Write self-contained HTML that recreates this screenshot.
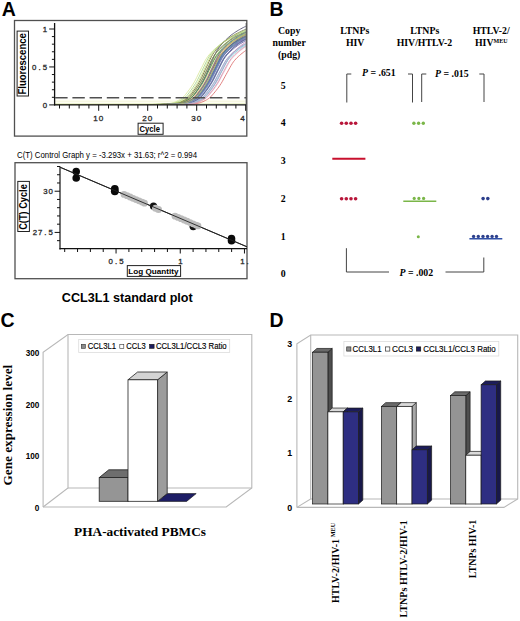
<!DOCTYPE html>
<html><head><meta charset="utf-8"><title>Figure</title>
<style>
html,body{margin:0;padding:0;background:#fff;}
body{width:520px;height:621px;overflow:hidden;}
svg{display:block;}
</style></head>
<body>
<svg width="520" height="621" viewBox="0 0 520 621">
<rect width="520" height="621" fill="#fff"/>
<text x="1.7" y="15.8" font-family='"Liberation Sans", sans-serif' font-weight="bold" font-size="19.5">A</text>
<text x="269.4" y="15.9" font-family='"Liberation Sans", sans-serif' font-weight="bold" font-size="19.5">B</text>
<text x="0.6" y="326.6" font-family='"Liberation Sans", sans-serif' font-weight="bold" font-size="19.5">C</text>
<text x="269.6" y="326.9" font-family='"Liberation Sans", sans-serif' font-weight="bold" font-size="19.5">D</text>
<rect x="14.5" y="20.5" width="232.3" height="115.6" fill="none" stroke="#505050" stroke-width="1.3"/>
<rect x="17.1" y="31.1" width="11.4" height="64.9" fill="#fff" stroke="#222" stroke-width="1"/>
<text transform="translate(26.2,94.5) rotate(-90)" textLength="61.3" lengthAdjust="spacingAndGlyphs" font-family='"Liberation Sans", sans-serif' font-weight="bold" font-size="10.4">Fluorescence</text>
<rect x="138.1" y="123.2" width="25" height="11.1" fill="#fff" stroke="#222" stroke-width="1"/>
<text x="139.5" y="131.7" textLength="20.4" lengthAdjust="spacingAndGlyphs" font-family='"Liberation Sans", sans-serif' font-weight="bold" font-size="8.3">Cycle</text>
<rect x="55" y="99.5" width="190.5" height="5" fill="#fdfdf2"/>
<line x1="55" y1="101.3" x2="245.5" y2="101.3" stroke="#f4f6d8" stroke-width="0.8"/>
<line x1="55" y1="103.6" x2="245.5" y2="103.6" stroke="#e4eec0" stroke-width="0.8"/>
<polyline points="54.60,104.50 59.50,104.50 64.40,104.50 69.30,104.50 74.20,104.50 79.10,104.50 84.00,104.50 88.90,104.50 93.80,104.50 98.70,104.50 103.60,104.50 108.50,104.50 113.40,104.50 118.30,104.50 123.20,104.50 128.10,104.50 133.00,104.50 137.90,104.50 142.80,104.50 147.70,104.49 152.60,104.46 153.83,104.45 155.05,104.43 156.28,104.41 157.50,104.40 158.73,104.38 159.95,104.35 161.18,104.33 162.40,104.31 163.62,104.28 164.85,104.21 166.08,104.09 167.30,103.93 168.53,103.72 169.75,103.49 170.98,103.22 172.20,102.94 173.43,102.63 174.65,102.21 175.88,101.67 177.10,101.05 178.33,100.40 179.55,99.71 180.78,98.95 182.00,98.08 183.22,97.08 184.45,95.83 185.68,94.38 186.90,92.80 188.12,91.20 189.35,89.56 190.58,87.85 191.80,86.05 193.03,84.15 194.25,82.15 195.47,79.95 196.70,77.54 197.93,75.04 199.15,72.54 200.38,70.14 201.60,67.71 202.83,65.22 204.05,62.78 205.28,60.46 206.50,58.37 207.72,56.58 208.95,55.01 210.18,53.58 211.40,52.27 212.62,51.04 213.85,49.88 215.08,48.76 216.30,47.68 217.53,46.65 218.75,45.67 219.97,44.74 221.20,43.87 222.43,43.05 223.65,42.28 224.88,41.53 226.10,40.82 227.33,40.14 228.55,39.49 229.78,38.86 231.00,38.27 232.22,37.69 233.45,37.13 234.68,36.58 235.90,36.05 237.12,35.53 238.35,35.03 239.58,34.54 240.80,34.07 242.03,33.62 243.25,33.19 244.47,32.78 245.70,32.40" fill="none" stroke="#d8e698" stroke-width="0.85"/>
<polyline points="54.60,104.50 59.50,104.50 64.40,104.50 69.30,104.50 74.20,104.50 79.10,104.50 84.00,104.50 88.90,104.50 93.80,104.50 98.70,104.50 103.60,104.50 108.50,104.50 113.40,104.50 118.30,104.50 123.20,104.50 128.10,104.50 133.00,104.50 137.90,104.50 142.80,104.50 147.70,104.50 152.60,104.48 153.83,104.47 155.05,104.46 156.28,104.44 157.50,104.43 158.73,104.41 159.95,104.39 161.18,104.37 162.40,104.35 163.62,104.33 164.85,104.30 166.08,104.27 167.30,104.20 168.53,104.08 169.75,103.91 170.98,103.70 172.20,103.46 173.43,103.18 174.65,102.89 175.88,102.57 177.10,102.14 178.33,101.58 179.55,100.94 180.78,100.27 182.00,99.56 183.22,98.77 184.45,97.87 185.68,96.83 186.90,95.55 188.12,94.05 189.35,92.42 190.58,90.77 191.80,89.08 193.03,87.31 194.25,85.45 195.47,83.49 196.70,81.42 197.93,79.15 199.15,76.67 200.38,74.08 201.60,71.50 202.83,69.02 204.05,66.51 205.28,63.95 206.50,61.42 207.72,59.03 208.95,56.87 210.18,55.02 211.40,53.41 212.62,51.93 213.85,50.57 215.08,49.30 216.30,48.10 217.53,46.95 218.75,45.83 219.97,44.77 221.20,43.76 222.43,42.80 223.65,41.90 224.88,41.06 226.10,40.25 227.33,39.49 228.55,38.75 229.78,38.05 231.00,37.38 232.22,36.73 233.45,36.11 234.68,35.52 235.90,34.94 237.12,34.38 238.35,33.83 239.58,33.29 240.80,32.77 242.03,32.27 243.25,31.79 244.47,31.32 245.70,30.88" fill="none" stroke="#a8d488" stroke-width="0.85"/>
<polyline points="54.60,104.50 59.50,104.50 64.40,104.50 69.30,104.50 74.20,104.50 79.10,104.50 84.00,104.50 88.90,104.50 93.80,104.50 98.70,104.50 103.60,104.50 108.50,104.50 113.40,104.50 118.30,104.50 123.20,104.50 128.10,104.50 133.00,104.50 137.90,104.50 142.80,104.50 147.70,104.50 152.60,104.50 153.83,104.49 155.05,104.48 156.28,104.47 157.50,104.46 158.73,104.45 159.95,104.44 161.18,104.42 162.40,104.40 163.62,104.38 164.85,104.36 166.08,104.34 167.30,104.31 168.53,104.29 169.75,104.25 170.98,104.17 172.20,104.03 173.43,103.85 174.65,103.62 175.88,103.36 177.10,103.07 178.33,102.76 179.55,102.42 180.78,101.94 182.00,101.34 183.22,100.66 184.45,99.96 185.68,99.21 186.90,98.37 188.12,97.41 189.35,96.29 190.58,94.91 191.80,93.31 193.03,91.61 194.25,89.89 195.47,88.12 196.70,86.26 197.93,84.31 199.15,82.25 200.38,80.07 201.60,77.66 202.83,75.05 204.05,72.36 205.28,69.69 206.50,67.13 207.72,64.50 208.95,61.84 210.18,59.24 211.40,56.79 212.62,54.60 213.85,52.75 215.08,51.10 216.30,49.60 217.53,48.21 218.75,46.90 219.97,45.67 221.20,44.47 222.43,43.33 223.65,42.23 224.88,41.19 226.10,40.21 227.33,39.29 228.55,38.42 229.78,37.59 231.00,36.80 232.22,36.05 233.45,35.33 234.68,34.63 235.90,33.97 237.12,33.33 238.35,32.72 239.58,32.12 240.80,31.53 242.03,30.97 243.25,30.41 244.47,29.88 245.70,29.36" fill="none" stroke="#6a6a34" stroke-width="0.85"/>
<polyline points="54.60,104.50 59.50,104.50 64.40,104.50 69.30,104.50 74.20,104.50 79.10,104.50 84.00,104.50 88.90,104.50 93.80,104.50 98.70,104.50 103.60,104.50 108.50,104.50 113.40,104.50 118.30,104.50 123.20,104.50 128.10,104.50 133.00,104.50 137.90,104.50 142.80,104.50 147.70,104.50 152.60,104.50 153.83,104.50 155.05,104.49 156.28,104.49 157.50,104.48 158.73,104.47 159.95,104.46 161.18,104.44 162.40,104.43 163.62,104.41 164.85,104.39 166.08,104.37 167.30,104.35 168.53,104.32 169.75,104.30 170.98,104.27 172.20,104.20 173.43,104.07 174.65,103.90 175.88,103.69 177.10,103.44 178.33,103.16 179.55,102.86 180.78,102.54 182.00,102.10 183.22,101.53 184.45,100.88 185.68,100.20 186.90,99.48 188.12,98.67 189.35,97.76 190.58,96.71 191.80,95.41 193.03,93.89 194.25,92.23 195.47,90.55 196.70,88.83 197.93,87.04 199.15,85.15 200.38,83.16 201.60,81.06 202.83,78.75 204.05,76.23 205.28,73.60 206.50,70.98 207.72,68.46 208.95,65.91 210.18,63.31 211.40,60.74 212.62,58.31 213.85,56.11 215.08,54.24 216.30,52.60 217.53,51.10 218.75,49.72 219.97,48.43 221.20,47.21 222.43,46.04 223.65,44.90 224.88,43.82 226.10,42.80 227.33,41.82 228.55,40.91 229.78,40.05 231.00,39.24 232.22,38.46 233.45,37.71 234.68,37.00 235.90,36.32 237.12,35.66 238.35,35.03 239.58,34.43 240.80,33.84 242.03,33.27 243.25,32.71 244.47,32.16 245.70,31.64" fill="none" stroke="#78ac58" stroke-width="0.85"/>
<polyline points="54.60,104.50 59.50,104.50 64.40,104.50 69.30,104.50 74.20,104.50 79.10,104.50 84.00,104.50 88.90,104.50 93.80,104.50 98.70,104.50 103.60,104.50 108.50,104.50 113.40,104.50 118.30,104.50 123.20,104.50 128.10,104.50 133.00,104.50 137.90,104.50 142.80,104.50 147.70,104.50 152.60,104.50 153.83,104.50 155.05,104.50 156.28,104.49 157.50,104.48 158.73,104.48 159.95,104.47 161.18,104.46 162.40,104.44 163.62,104.43 164.85,104.41 166.08,104.39 167.30,104.37 168.53,104.35 169.75,104.33 170.98,104.30 172.20,104.27 173.43,104.19 174.65,104.06 175.88,103.89 177.10,103.68 178.33,103.44 179.55,103.17 180.78,102.88 182.00,102.56 183.22,102.11 184.45,101.55 185.68,100.92 186.90,100.27 188.12,99.57 189.35,98.78 190.58,97.89 191.80,96.85 193.03,95.56 194.25,94.07 195.47,92.48 196.70,90.88 197.93,89.23 199.15,87.50 200.38,85.68 201.60,83.76 202.83,81.73 204.05,79.48 205.28,77.05 206.50,74.54 207.72,72.05 208.95,69.66 210.18,67.21 211.40,64.73 212.62,62.30 213.85,60.02 215.08,57.98 216.30,56.26 217.53,54.72 218.75,53.32 219.97,52.02 221.20,50.81 222.43,49.65 223.65,48.54 224.88,47.47 226.10,46.45 227.33,45.48 228.55,44.57 229.78,43.70 231.00,42.90 232.22,42.13 233.45,41.39 234.68,40.69 235.90,40.01 237.12,39.36 238.35,38.75 239.58,38.15 240.80,37.58 242.03,37.02 243.25,36.48 244.47,35.95 245.70,35.43" fill="none" stroke="#bcc85c" stroke-width="0.85"/>
<polyline points="54.60,104.50 59.50,104.50 64.40,104.50 69.30,104.50 74.20,104.50 79.10,104.50 84.00,104.50 88.90,104.50 93.80,104.50 98.70,104.50 103.60,104.50 108.50,104.50 113.40,104.50 118.30,104.50 123.20,104.50 128.10,104.50 133.00,104.50 137.90,104.50 142.80,104.50 147.70,104.50 152.60,104.50 153.83,104.50 155.05,104.50 156.28,104.49 157.50,104.49 158.73,104.48 159.95,104.47 161.18,104.46 162.40,104.45 163.62,104.43 164.85,104.41 166.08,104.40 167.30,104.38 168.53,104.35 169.75,104.33 170.98,104.30 172.20,104.28 173.43,104.22 174.65,104.11 175.88,103.94 177.10,103.74 178.33,103.50 179.55,103.23 180.78,102.94 182.00,102.63 183.22,102.23 184.45,101.69 185.68,101.06 186.90,100.39 188.12,99.69 189.35,98.91 190.58,98.03 191.80,97.03 193.03,95.80 194.25,94.33 195.47,92.72 196.70,91.05 197.93,89.37 199.15,87.61 200.38,85.77 201.60,83.82 202.83,81.77 204.05,79.54 205.28,77.08 206.50,74.50 207.72,71.90 208.95,69.39 210.18,66.89 211.40,64.32 212.62,61.77 213.85,59.34 215.08,57.12 216.30,55.20 217.53,53.54 218.75,52.04 219.97,50.65 221.20,49.37 222.43,48.15 223.65,46.98 224.88,45.85 226.10,44.77 227.33,43.75 228.55,42.78 229.78,41.86 231.00,41.00 232.22,40.19 233.45,39.42 234.68,38.67 235.90,37.96 237.12,37.28 238.35,36.63 239.58,36.00 240.80,35.40 242.03,34.82 243.25,34.25 244.47,33.69 245.70,33.15" fill="none" stroke="#94bc6c" stroke-width="0.85"/>
<polyline points="54.60,104.50 59.50,104.50 64.40,104.50 69.30,104.50 74.20,104.50 79.10,104.50 84.00,104.50 88.90,104.50 93.80,104.50 98.70,104.50 103.60,104.50 108.50,104.50 113.40,104.50 118.30,104.50 123.20,104.50 128.10,104.50 133.00,104.50 137.90,104.50 142.80,104.50 147.70,104.50 152.60,104.50 153.83,104.50 155.05,104.50 156.28,104.50 157.50,104.49 158.73,104.48 159.95,104.48 161.18,104.46 162.40,104.45 163.62,104.44 164.85,104.42 166.08,104.40 167.30,104.38 168.53,104.36 169.75,104.33 170.98,104.31 172.20,104.28 173.43,104.25 174.65,104.17 175.88,104.03 177.10,103.85 178.33,103.61 179.55,103.34 180.78,103.04 182.00,102.72 183.22,102.37 184.45,101.89 185.68,101.27 186.90,100.56 188.12,99.82 189.35,99.03 190.58,98.16 191.80,97.16 193.03,96.02 194.25,94.60 195.47,92.94 196.70,91.14 197.93,89.31 199.15,87.44 200.38,85.48 201.60,83.43 202.83,81.26 204.05,78.97 205.28,76.46 206.50,73.71 207.72,70.85 208.95,68.00 210.18,65.26 211.40,62.48 212.62,59.64 213.85,56.85 215.08,54.20 216.30,51.81 217.53,49.77 218.75,47.98 219.97,46.35 221.20,44.85 222.43,43.45 223.65,42.12 224.88,40.84 226.10,39.60 227.33,38.43 228.55,37.31 229.78,36.25 231.00,35.25 232.22,34.32 233.45,33.43 234.68,32.59 235.90,31.77 237.12,31.00 238.35,30.25 239.58,29.54 240.80,28.85 242.03,28.20 243.25,27.56 244.47,26.93 245.70,26.32" fill="none" stroke="#4c4c6c" stroke-width="0.85"/>
<polyline points="54.60,104.50 59.50,104.50 64.40,104.50 69.30,104.50 74.20,104.50 79.10,104.50 84.00,104.50 88.90,104.50 93.80,104.50 98.70,104.50 103.60,104.50 108.50,104.50 113.40,104.50 118.30,104.50 123.20,104.50 128.10,104.50 133.00,104.50 137.90,104.50 142.80,104.50 147.70,104.50 152.60,104.50 153.83,104.50 155.05,104.50 156.28,104.50 157.50,104.50 158.73,104.49 159.95,104.49 161.18,104.48 162.40,104.47 163.62,104.46 164.85,104.45 166.08,104.43 167.30,104.42 168.53,104.40 169.75,104.38 170.98,104.36 172.20,104.33 173.43,104.31 174.65,104.28 175.88,104.23 177.10,104.12 178.33,103.96 179.55,103.76 180.78,103.53 182.00,103.27 183.22,102.99 184.45,102.68 185.68,102.29 186.90,101.77 188.12,101.16 189.35,100.50 190.58,99.82 191.80,99.07 193.03,98.21 194.25,97.24 195.47,96.04 196.70,94.61 197.93,93.04 199.15,91.43 200.38,89.79 201.60,88.08 202.83,86.28 204.05,84.39 205.28,82.40 206.50,80.23 207.72,77.84 208.95,75.33 210.18,72.80 211.40,70.36 212.62,67.93 213.85,65.43 215.08,62.95 216.30,60.59 217.53,58.43 218.75,56.56 219.97,54.95 221.20,53.49 222.43,52.14 223.65,50.89 224.88,49.71 226.10,48.57 227.33,47.47 228.55,46.42 229.78,45.43 231.00,44.48 232.22,43.59 233.45,42.76 234.68,41.97 235.90,41.21 237.12,40.49 238.35,39.80 239.58,39.14 240.80,38.50 242.03,37.90 243.25,37.31 244.47,36.74 245.70,36.19" fill="none" stroke="#ec8c4c" stroke-width="0.85"/>
<polyline points="54.60,104.50 59.50,104.50 64.40,104.50 69.30,104.50 74.20,104.50 79.10,104.50 84.00,104.50 88.90,104.50 93.80,104.50 98.70,104.50 103.60,104.50 108.50,104.50 113.40,104.50 118.30,104.50 123.20,104.50 128.10,104.50 133.00,104.50 137.90,104.50 142.80,104.50 147.70,104.50 152.60,104.50 153.83,104.50 155.05,104.50 156.28,104.50 157.50,104.50 158.73,104.49 159.95,104.49 161.18,104.48 162.40,104.47 163.62,104.46 164.85,104.45 166.08,104.44 167.30,104.42 168.53,104.41 169.75,104.39 170.98,104.37 172.20,104.35 173.43,104.32 174.65,104.29 175.88,104.26 177.10,104.17 178.33,104.03 179.55,103.85 180.78,103.63 182.00,103.39 183.22,103.11 184.45,102.82 185.68,102.48 186.90,102.01 188.12,101.43 189.35,100.80 190.58,100.14 191.80,99.42 193.03,98.61 194.25,97.70 195.47,96.62 196.70,95.28 197.93,93.77 199.15,92.17 200.38,90.56 201.60,88.89 202.83,87.15 204.05,85.31 205.28,83.38 206.50,81.31 207.72,79.02 208.95,76.56 210.18,74.05 211.40,71.58 212.62,69.20 213.85,66.74 215.08,64.26 216.30,61.85 217.53,59.62 218.75,57.64 219.97,55.96 221.20,54.46 222.43,53.08 223.65,51.80 224.88,50.60 226.10,49.46 227.33,48.35 228.55,47.29 229.78,46.28 231.00,45.33 232.22,44.42 233.45,43.57 234.68,42.77 235.90,42.01 237.12,41.28 238.35,40.58 239.58,39.92 240.80,39.27 242.03,38.66 243.25,38.07 244.47,37.50 245.70,36.95" fill="none" stroke="#a04444" stroke-width="0.85"/>
<polyline points="54.60,104.50 59.50,104.50 64.40,104.50 69.30,104.50 74.20,104.50 79.10,104.50 84.00,104.50 88.90,104.50 93.80,104.50 98.70,104.50 103.60,104.50 108.50,104.50 113.40,104.50 118.30,104.50 123.20,104.50 128.10,104.50 133.00,104.50 137.90,104.50 142.80,104.50 147.70,104.50 152.60,104.50 153.83,104.50 155.05,104.50 156.28,104.50 157.50,104.50 158.73,104.50 159.95,104.49 161.18,104.49 162.40,104.48 163.62,104.47 164.85,104.46 166.08,104.44 167.30,104.43 168.53,104.41 169.75,104.39 170.98,104.37 172.20,104.35 173.43,104.32 174.65,104.29 175.88,104.26 177.10,104.21 178.33,104.10 179.55,103.94 180.78,103.73 182.00,103.48 183.22,103.19 184.45,102.88 185.68,102.55 186.90,102.15 188.12,101.59 189.35,100.93 190.58,100.21 191.80,99.46 193.03,98.64 194.25,97.72 195.47,96.66 196.70,95.39 197.93,93.85 199.15,92.13 200.38,90.33 201.60,88.53 202.83,86.64 204.05,84.67 205.28,82.59 206.50,80.40 207.72,78.04 208.95,75.43 210.18,72.66 211.40,69.84 212.62,67.11 213.85,64.43 215.08,61.66 216.30,58.89 217.53,56.23 218.75,53.78 219.97,51.63 221.20,49.80 222.43,48.15 223.65,46.63 224.88,45.22 226.10,43.89 227.33,42.62 228.55,41.39 229.78,40.22 231.00,39.10 232.22,38.04 233.45,37.04 234.68,36.10 235.90,35.21 237.12,34.37 238.35,33.56 239.58,32.78 240.80,32.04 242.03,31.33 243.25,30.65 244.47,29.99 245.70,29.36" fill="none" stroke="#8c9c9c" stroke-width="0.85"/>
<polyline points="54.60,104.50 59.50,104.50 64.40,104.50 69.30,104.50 74.20,104.50 79.10,104.50 84.00,104.50 88.90,104.50 93.80,104.50 98.70,104.50 103.60,104.50 108.50,104.50 113.40,104.50 118.30,104.50 123.20,104.50 128.10,104.50 133.00,104.50 137.90,104.50 142.80,104.50 147.70,104.50 152.60,104.50 153.83,104.50 155.05,104.50 156.28,104.50 157.50,104.50 158.73,104.50 159.95,104.50 161.18,104.49 162.40,104.49 163.62,104.48 164.85,104.47 166.08,104.46 167.30,104.45 168.53,104.43 169.75,104.42 170.98,104.40 172.20,104.38 173.43,104.36 174.65,104.34 175.88,104.31 177.10,104.28 178.33,104.23 179.55,104.12 180.78,103.96 182.00,103.77 183.22,103.54 184.45,103.28 185.68,102.99 186.90,102.69 188.12,102.31 189.35,101.78 190.58,101.18 191.80,100.53 193.03,99.85 194.25,99.10 195.47,98.25 196.70,97.28 197.93,96.09 199.15,94.67 200.38,93.11 201.60,91.50 202.83,89.87 204.05,88.17 205.28,86.39 206.50,84.51 207.72,82.53 208.95,80.37 210.18,78.00 211.40,75.50 212.62,72.99 213.85,70.56 215.08,68.15 216.30,65.66 217.53,63.20 218.75,60.85 219.97,58.70 221.20,56.84 222.43,55.25 223.65,53.79 224.88,52.45 226.10,51.21 227.33,50.03 228.55,48.90 229.78,47.81 231.00,46.77 232.22,45.78 233.45,44.84 234.68,43.95 235.90,43.12 237.12,42.34 238.35,41.59 239.58,40.87 240.80,40.18 242.03,39.53 243.25,38.89 244.47,38.29 245.70,37.71" fill="none" stroke="#3c8484" stroke-width="0.85"/>
<polyline points="54.60,104.50 59.50,104.50 64.40,104.50 69.30,104.50 74.20,104.50 79.10,104.50 84.00,104.50 88.90,104.50 93.80,104.50 98.70,104.50 103.60,104.50 108.50,104.50 113.40,104.50 118.30,104.50 123.20,104.50 128.10,104.50 133.00,104.50 137.90,104.50 142.80,104.50 147.70,104.50 152.60,104.50 153.83,104.50 155.05,104.50 156.28,104.50 157.50,104.50 158.73,104.50 159.95,104.50 161.18,104.49 162.40,104.49 163.62,104.48 164.85,104.48 166.08,104.47 167.30,104.45 168.53,104.44 169.75,104.43 170.98,104.41 172.20,104.39 173.43,104.37 174.65,104.35 175.88,104.32 177.10,104.30 178.33,104.26 179.55,104.17 180.78,104.04 182.00,103.86 183.22,103.65 184.45,103.41 185.68,103.14 186.90,102.85 188.12,102.52 189.35,102.05 190.58,101.49 191.80,100.86 193.03,100.21 194.25,99.51 195.47,98.72 196.70,97.82 197.93,96.75 199.15,95.44 200.38,93.95 201.60,92.38 202.83,90.80 204.05,89.17 205.28,87.45 206.50,85.65 207.72,83.74 208.95,81.72 210.18,79.46 211.40,77.05 212.62,74.58 213.85,72.15 215.08,69.81 216.30,67.39 217.53,64.96 218.75,62.60 219.97,60.40 221.20,58.45 222.43,56.81 223.65,55.33 224.88,53.97 226.10,52.72 227.33,51.54 228.55,50.42 229.78,49.33 231.00,48.29 232.22,47.30 233.45,46.36 234.68,45.47 235.90,44.63 237.12,43.85 238.35,43.10 239.58,42.38 240.80,41.69 242.03,41.04 243.25,40.41 244.47,39.81 245.70,39.23" fill="none" stroke="#4c7494" stroke-width="0.85"/>
<polyline points="54.60,104.50 59.50,104.50 64.40,104.50 69.30,104.50 74.20,104.50 79.10,104.50 84.00,104.50 88.90,104.50 93.80,104.50 98.70,104.50 103.60,104.50 108.50,104.50 113.40,104.50 118.30,104.50 123.20,104.50 128.10,104.50 133.00,104.50 137.90,104.50 142.80,104.50 147.70,104.50 152.60,104.50 153.83,104.50 155.05,104.50 156.28,104.50 157.50,104.50 158.73,104.50 159.95,104.50 161.18,104.50 162.40,104.49 163.62,104.49 164.85,104.48 166.08,104.47 167.30,104.46 168.53,104.44 169.75,104.43 170.98,104.41 172.20,104.39 173.43,104.37 174.65,104.35 175.88,104.33 177.10,104.30 178.33,104.27 179.55,104.20 180.78,104.08 182.00,103.91 183.22,103.70 184.45,103.46 185.68,103.18 186.90,102.89 188.12,102.57 189.35,102.14 190.58,101.58 191.80,100.94 193.03,100.28 194.25,99.56 195.47,98.77 196.70,97.87 197.93,96.84 199.15,95.56 200.38,94.06 201.60,92.44 202.83,90.78 204.05,89.09 205.28,87.33 206.50,85.47 207.72,83.52 208.95,81.45 210.18,79.18 211.40,76.70 212.62,74.12 213.85,71.54 215.08,69.06 216.30,66.55 217.53,63.99 218.75,61.47 219.97,59.08 221.20,56.92 222.43,55.08 223.65,53.46 224.88,51.99 226.10,50.63 227.33,49.37 228.55,48.17 229.78,47.01 231.00,45.90 232.22,44.84 233.45,43.83 234.68,42.87 235.90,41.97 237.12,41.13 238.35,40.33 239.58,39.56 240.80,38.83 242.03,38.12 243.25,37.45 244.47,36.81 245.70,36.19" fill="none" stroke="#6484a4" stroke-width="0.85"/>
<polyline points="54.60,104.50 59.50,104.50 64.40,104.50 69.30,104.50 74.20,104.50 79.10,104.50 84.00,104.50 88.90,104.50 93.80,104.50 98.70,104.50 103.60,104.50 108.50,104.50 113.40,104.50 118.30,104.50 123.20,104.50 128.10,104.50 133.00,104.50 137.90,104.50 142.80,104.50 147.70,104.50 152.60,104.50 153.83,104.50 155.05,104.50 156.28,104.50 157.50,104.50 158.73,104.50 159.95,104.50 161.18,104.50 162.40,104.49 163.62,104.49 164.85,104.48 166.08,104.47 167.30,104.46 168.53,104.45 169.75,104.43 170.98,104.42 172.20,104.40 173.43,104.38 174.65,104.36 175.88,104.33 177.10,104.31 178.33,104.28 179.55,104.23 180.78,104.12 182.00,103.97 183.22,103.77 184.45,103.53 185.68,103.27 186.90,102.97 188.12,102.66 189.35,102.28 190.58,101.75 191.80,101.12 193.03,100.44 194.25,99.74 195.47,98.96 196.70,98.09 197.93,97.09 199.15,95.89 200.38,94.43 201.60,92.80 202.83,91.11 204.05,89.40 205.28,87.62 206.50,85.75 207.72,83.79 208.95,81.71 210.18,79.49 211.40,77.01 212.62,74.39 213.85,71.73 215.08,69.14 216.30,66.61 217.53,64.00 218.75,61.38 219.97,58.86 221.20,56.54 222.43,54.51 223.65,52.79 224.88,51.22 226.10,49.78 227.33,48.45 228.55,47.19 229.78,45.99 231.00,44.83 232.22,43.72 233.45,42.66 234.68,41.66 235.90,40.71 237.12,39.82 238.35,38.99 239.58,38.19 240.80,37.42 242.03,36.69 243.25,35.99 244.47,35.32 245.70,34.67" fill="none" stroke="#5468ac" stroke-width="0.85"/>
<polyline points="54.60,104.50 59.50,104.50 64.40,104.50 69.30,104.50 74.20,104.50 79.10,104.50 84.00,104.50 88.90,104.50 93.80,104.50 98.70,104.50 103.60,104.50 108.50,104.50 113.40,104.50 118.30,104.50 123.20,104.50 128.10,104.50 133.00,104.50 137.90,104.50 142.80,104.50 147.70,104.50 152.60,104.50 153.83,104.50 155.05,104.50 156.28,104.50 157.50,104.50 158.73,104.50 159.95,104.50 161.18,104.50 162.40,104.50 163.62,104.49 164.85,104.49 166.08,104.48 167.30,104.47 168.53,104.46 169.75,104.45 170.98,104.43 172.20,104.42 173.43,104.40 174.65,104.38 175.88,104.36 177.10,104.33 178.33,104.31 179.55,104.28 180.78,104.22 182.00,104.11 183.22,103.95 184.45,103.75 185.68,103.52 186.90,103.26 188.12,102.97 189.35,102.66 190.58,102.27 191.80,101.73 193.03,101.12 194.25,100.46 195.47,99.77 196.70,99.00 197.93,98.14 199.15,97.15 200.38,95.94 201.60,94.49 202.83,92.90 204.05,91.27 205.28,89.61 206.50,87.88 207.72,86.06 208.95,84.15 210.18,82.13 211.40,79.94 212.62,77.52 213.85,74.98 215.08,72.42 216.30,69.95 217.53,67.49 218.75,64.96 219.97,62.45 221.20,60.06 222.43,57.87 223.65,55.98 224.88,54.35 226.10,52.87 227.33,51.51 228.55,50.24 229.78,49.04 231.00,47.89 232.22,46.78 233.45,45.72 234.68,44.72 235.90,43.76 237.12,42.86 238.35,42.01 239.58,41.22 240.80,40.45 242.03,39.72 243.25,39.02 244.47,38.35 245.70,37.71" fill="none" stroke="#8c7cc4" stroke-width="0.85"/>
<polyline points="54.60,104.50 59.50,104.50 64.40,104.50 69.30,104.50 74.20,104.50 79.10,104.50 84.00,104.50 88.90,104.50 93.80,104.50 98.70,104.50 103.60,104.50 108.50,104.50 113.40,104.50 118.30,104.50 123.20,104.50 128.10,104.50 133.00,104.50 137.90,104.50 142.80,104.50 147.70,104.50 152.60,104.50 153.83,104.50 155.05,104.50 156.28,104.50 157.50,104.50 158.73,104.50 159.95,104.50 161.18,104.50 162.40,104.50 163.62,104.50 164.85,104.49 166.08,104.49 167.30,104.48 168.53,104.47 169.75,104.46 170.98,104.45 172.20,104.43 173.43,104.42 174.65,104.40 175.88,104.38 177.10,104.36 178.33,104.33 179.55,104.31 180.78,104.28 182.00,104.22 183.22,104.10 184.45,103.94 185.68,103.74 186.90,103.51 188.12,103.25 189.35,102.97 190.58,102.67 191.80,102.26 193.03,101.73 194.25,101.12 195.47,100.48 196.70,99.81 197.93,99.05 199.15,98.20 200.38,97.22 201.60,96.00 202.83,94.58 204.05,93.03 205.28,91.46 206.50,89.85 207.72,88.17 208.95,86.41 210.18,84.55 211.40,82.58 212.62,80.42 213.85,78.06 215.08,75.61 216.30,73.16 217.53,70.80 218.75,68.42 219.97,65.98 221.20,63.58 222.43,61.31 223.65,59.26 224.88,57.50 226.10,55.97 227.33,54.57 228.55,53.28 229.78,52.07 231.00,50.93 232.22,49.83 233.45,48.77 234.68,47.76 235.90,46.80 237.12,45.90 238.35,45.04 239.58,44.24 240.80,43.48 242.03,42.75 243.25,42.05 244.47,41.38 245.70,40.74" fill="none" stroke="#644c9c" stroke-width="0.85"/>
<polyline points="54.60,104.50 59.50,104.50 64.40,104.50 69.30,104.50 74.20,104.50 79.10,104.50 84.00,104.50 88.90,104.50 93.80,104.50 98.70,104.50 103.60,104.50 108.50,104.50 113.40,104.50 118.30,104.50 123.20,104.50 128.10,104.50 133.00,104.50 137.90,104.50 142.80,104.50 147.70,104.50 152.60,104.50 153.83,104.50 155.05,104.50 156.28,104.50 157.50,104.50 158.73,104.50 159.95,104.50 161.18,104.50 162.40,104.50 163.62,104.50 164.85,104.50 166.08,104.49 167.30,104.48 168.53,104.48 169.75,104.47 170.98,104.46 172.20,104.44 173.43,104.43 174.65,104.41 175.88,104.39 177.10,104.37 178.33,104.35 179.55,104.32 180.78,104.30 182.00,104.27 183.22,104.19 184.45,104.06 185.68,103.88 186.90,103.67 188.12,103.42 189.35,103.15 190.58,102.86 191.80,102.54 193.03,102.08 194.25,101.52 195.47,100.88 196.70,100.22 197.93,99.51 199.15,98.71 200.38,97.81 201.60,96.76 202.83,95.45 204.05,93.94 205.28,92.34 206.50,90.71 207.72,89.04 208.95,87.29 210.18,85.45 211.40,83.51 212.62,81.45 213.85,79.18 215.08,76.71 216.30,74.17 217.53,71.65 218.75,69.24 219.97,66.76 221.20,64.24 222.43,61.79 223.65,59.48 224.88,57.42 226.10,55.67 227.33,54.11 228.55,52.69 229.78,51.38 231.00,50.15 232.22,48.99 233.45,47.86 234.68,46.78 235.90,45.74 237.12,44.76 238.35,43.84 239.58,42.96 240.80,42.15 242.03,41.37 243.25,40.62 244.47,39.91 245.70,39.23" fill="none" stroke="#7494b4" stroke-width="0.85"/>
<polyline points="54.60,104.50 59.50,104.50 64.40,104.50 69.30,104.50 74.20,104.50 79.10,104.50 84.00,104.50 88.90,104.50 93.80,104.50 98.70,104.50 103.60,104.50 108.50,104.50 113.40,104.50 118.30,104.50 123.20,104.50 128.10,104.50 133.00,104.50 137.90,104.50 142.80,104.50 147.70,104.50 152.60,104.50 153.83,104.50 155.05,104.50 156.28,104.50 157.50,104.50 158.73,104.50 159.95,104.50 161.18,104.50 162.40,104.50 163.62,104.50 164.85,104.50 166.08,104.49 167.30,104.49 168.53,104.48 169.75,104.48 170.98,104.47 172.20,104.46 173.43,104.44 174.65,104.43 175.88,104.41 177.10,104.39 178.33,104.37 179.55,104.35 180.78,104.33 182.00,104.31 183.22,104.27 184.45,104.19 185.68,104.05 186.90,103.88 188.12,103.68 189.35,103.44 190.58,103.18 191.80,102.90 193.03,102.58 194.25,102.13 195.47,101.59 196.70,100.98 197.93,100.36 199.15,99.67 200.38,98.91 201.60,98.04 202.83,97.01 204.05,95.74 205.28,94.30 206.50,92.79 207.72,91.26 208.95,89.68 210.18,88.02 211.40,86.27 212.62,84.43 213.85,82.47 215.08,80.29 216.30,77.96 217.53,75.57 218.75,73.23 219.97,70.96 221.20,68.63 222.43,66.27 223.65,63.99 224.88,61.86 226.10,59.98 227.33,58.39 228.55,56.96 229.78,55.65 231.00,54.43 232.22,53.30 233.45,52.21 234.68,51.16 235.90,50.15 237.12,49.20 238.35,48.29 239.58,47.43 240.80,46.62 242.03,45.86 243.25,45.14 244.47,44.44 245.70,43.78" fill="none" stroke="#8cbcdc" stroke-width="0.85"/>
<polyline points="54.60,104.50 59.50,104.50 64.40,104.50 69.30,104.50 74.20,104.50 79.10,104.50 84.00,104.50 88.90,104.50 93.80,104.50 98.70,104.50 103.60,104.50 108.50,104.50 113.40,104.50 118.30,104.50 123.20,104.50 128.10,104.50 133.00,104.50 137.90,104.50 142.80,104.50 147.70,104.50 152.60,104.50 153.83,104.50 155.05,104.50 156.28,104.50 157.50,104.50 158.73,104.50 159.95,104.50 161.18,104.50 162.40,104.50 163.62,104.50 164.85,104.50 166.08,104.50 167.30,104.50 168.53,104.49 169.75,104.49 170.98,104.48 172.20,104.47 173.43,104.46 174.65,104.45 175.88,104.43 177.10,104.42 178.33,104.40 179.55,104.38 180.78,104.36 182.00,104.34 183.22,104.31 184.45,104.28 185.68,104.21 186.90,104.09 188.12,103.93 189.35,103.73 190.58,103.50 191.80,103.25 193.03,102.98 194.25,102.68 195.47,102.26 196.70,101.73 197.93,101.15 199.15,100.53 200.38,99.87 201.60,99.13 202.83,98.30 204.05,97.32 205.28,96.11 206.50,94.72 207.72,93.23 208.95,91.72 210.18,90.17 211.40,88.55 212.62,86.84 213.85,85.05 215.08,83.14 216.30,81.03 217.53,78.75 218.75,76.39 219.97,74.06 221.20,71.82 222.43,69.52 223.65,67.19 224.88,64.91 226.10,62.78 227.33,60.86 228.55,59.24 229.78,57.80 231.00,56.48 232.22,55.27 233.45,54.13 234.68,53.05 235.90,52.00 237.12,51.00 238.35,50.04 239.58,49.14 240.80,48.28 242.03,47.47 243.25,46.71 244.47,45.99 245.70,45.30" fill="none" stroke="#a4dcec" stroke-width="0.85"/>
<polyline points="54.60,104.50 59.50,104.50 64.40,104.50 69.30,104.50 74.20,104.50 79.10,104.50 84.00,104.50 88.90,104.50 93.80,104.50 98.70,104.50 103.60,104.50 108.50,104.50 113.40,104.50 118.30,104.50 123.20,104.50 128.10,104.50 133.00,104.50 137.90,104.50 142.80,104.50 147.70,104.50 152.60,104.50 153.83,104.50 155.05,104.50 156.28,104.50 157.50,104.50 158.73,104.50 159.95,104.50 161.18,104.50 162.40,104.50 163.62,104.50 164.85,104.50 166.08,104.50 167.30,104.50 168.53,104.50 169.75,104.49 170.98,104.49 172.20,104.48 173.43,104.47 174.65,104.46 175.88,104.45 177.10,104.43 178.33,104.41 179.55,104.40 180.78,104.38 182.00,104.35 183.22,104.33 184.45,104.31 185.68,104.28 186.90,104.21 188.12,104.09 189.35,103.93 190.58,103.72 191.80,103.49 193.03,103.22 194.25,102.94 195.47,102.63 196.70,102.21 197.93,101.67 199.15,101.05 200.38,100.40 201.60,99.71 202.83,98.94 204.05,98.07 205.28,97.07 206.50,95.83 207.72,94.38 208.95,92.80 210.18,91.20 211.40,89.56 212.62,87.84 213.85,86.05 215.08,84.15 216.30,82.14 217.53,79.94 218.75,77.54 219.97,75.03 221.20,72.53 222.43,70.13 223.65,67.70 224.88,65.21 226.10,62.77 227.33,60.45 228.55,58.36 229.78,56.57 231.00,55.00 232.22,53.57 233.45,52.26 234.68,51.03 235.90,49.87 237.12,48.75 238.35,47.67 239.58,46.64 240.80,45.66 242.03,44.73 243.25,43.86 244.47,43.04 245.70,42.26" fill="none" stroke="#c48cbc" stroke-width="0.85"/>
<polyline points="54.60,104.50 59.50,104.50 64.40,104.50 69.30,104.50 74.20,104.50 79.10,104.50 84.00,104.50 88.90,104.50 93.80,104.50 98.70,104.50 103.60,104.50 108.50,104.50 113.40,104.50 118.30,104.50 123.20,104.50 128.10,104.50 133.00,104.50 137.90,104.50 142.80,104.50 147.70,104.50 152.60,104.50 153.83,104.50 155.05,104.50 156.28,104.50 157.50,104.50 158.73,104.50 159.95,104.50 161.18,104.50 162.40,104.50 163.62,104.50 164.85,104.50 166.08,104.50 167.30,104.50 168.53,104.50 169.75,104.50 170.98,104.49 172.20,104.49 173.43,104.48 174.65,104.47 175.88,104.46 177.10,104.45 178.33,104.44 179.55,104.42 180.78,104.41 182.00,104.39 183.22,104.37 184.45,104.35 185.68,104.32 186.90,104.30 188.12,104.24 189.35,104.14 190.58,104.00 191.80,103.81 193.03,103.59 194.25,103.35 195.47,103.09 196.70,102.80 197.93,102.44 199.15,101.95 200.38,101.38 201.60,100.77 202.83,100.13 204.05,99.42 205.28,98.63 206.50,97.71 207.72,96.60 208.95,95.26 210.18,93.79 211.40,92.28 212.62,90.75 213.85,89.16 215.08,87.48 216.30,85.71 217.53,83.85 218.75,81.82 219.97,79.59 221.20,77.25 222.43,74.88 223.65,72.60 224.88,70.34 226.10,68.00 227.33,65.68 228.55,63.47 229.78,61.45 231.00,59.71 232.22,58.21 233.45,56.84 234.68,55.58 235.90,54.41 237.12,53.31 238.35,52.25 239.58,51.22 240.80,50.24 242.03,49.31 243.25,48.43 244.47,47.60 245.70,46.82" fill="none" stroke="#ecb4c8" stroke-width="0.85"/>
<polyline points="54.60,104.50 59.50,104.50 64.40,104.50 69.30,104.50 74.20,104.50 79.10,104.50 84.00,104.50 88.90,104.50 93.80,104.50 98.70,104.50 103.60,104.50 108.50,104.50 113.40,104.50 118.30,104.50 123.20,104.50 128.10,104.50 133.00,104.50 137.90,104.50 142.80,104.50 147.70,104.50 152.60,104.50 153.83,104.50 155.05,104.50 156.28,104.50 157.50,104.50 158.73,104.50 159.95,104.50 161.18,104.50 162.40,104.50 163.62,104.50 164.85,104.50 166.08,104.50 167.30,104.50 168.53,104.50 169.75,104.50 170.98,104.50 172.20,104.50 173.43,104.50 174.65,104.49 175.88,104.48 177.10,104.48 178.33,104.47 179.55,104.46 180.78,104.45 182.00,104.43 183.22,104.42 184.45,104.40 185.68,104.38 186.90,104.36 188.12,104.34 189.35,104.31 190.58,104.28 191.80,104.20 193.03,104.07 194.25,103.91 195.47,103.71 196.70,103.49 197.93,103.24 199.15,102.97 200.38,102.66 201.60,102.23 202.83,101.71 204.05,101.13 205.28,100.53 206.50,99.87 207.72,99.14 208.95,98.30 210.18,97.32 211.40,96.10 212.62,94.72 213.85,93.27 215.08,91.81 216.30,90.29 217.53,88.70 218.75,87.03 219.97,85.26 221.20,83.38 222.43,81.29 223.65,79.06 224.88,76.77 226.10,74.52 227.33,72.35 228.55,70.11 229.78,67.85 231.00,65.66 232.22,63.63 233.45,61.82 234.68,60.30 235.90,58.93 237.12,57.67 238.35,56.51 239.58,55.41 240.80,54.37 242.03,53.37 243.25,52.40 244.47,51.48 245.70,50.61" fill="none" stroke="#dc6c6c" stroke-width="0.85"/>
<polyline points="54.60,104.50 59.50,104.50 64.40,104.50 69.30,104.50 74.20,104.50 79.10,104.50 84.00,104.50 88.90,104.50 93.80,104.50 98.70,104.50 103.60,104.50 108.50,104.50 113.40,104.50 118.30,104.50 123.20,104.50 128.10,104.50 133.00,104.50 137.90,104.50 142.80,104.50 147.70,104.50 152.60,104.49 153.83,104.48 155.05,104.47 156.28,104.46 157.50,104.45 158.73,104.44 159.95,104.42 161.18,104.40 162.40,104.38 163.62,104.36 164.85,104.34 166.08,104.31 167.30,104.28 168.53,104.24 169.75,104.15 170.98,104.01 172.20,103.82 173.43,103.59 174.65,103.33 175.88,103.04 177.10,102.73 178.33,102.38 179.55,101.88 180.78,101.27 182.00,100.60 183.22,99.90 184.45,99.15 185.68,98.30 186.90,97.33 188.12,96.19 189.35,94.78 190.58,93.18 191.80,91.50 193.03,89.81 194.25,88.05 195.47,86.21 196.70,84.28 197.93,82.24 199.15,80.06 200.38,77.64 201.60,75.05 202.83,72.40 204.05,69.80 205.28,67.29 206.50,64.70 207.72,62.08 208.95,59.55 210.18,57.19 211.40,55.10 212.62,53.34 213.85,51.75 215.08,50.30 216.30,48.95 217.53,47.69 218.75,46.48 219.97,45.32 221.20,44.20 222.43,43.14 223.65,42.13 224.88,41.17 226.10,40.28 227.33,39.44 228.55,38.63 229.78,37.86 231.00,37.13 232.22,36.42 233.45,35.75 234.68,35.10 235.90,34.48 237.12,33.88 238.35,33.30 239.58,32.73 240.80,32.17 242.03,31.63 243.25,31.11 244.47,30.60 245.70,30.12" fill="none" stroke="#c4d87c" stroke-width="0.85"/>
<polyline points="54.60,104.50 59.50,104.50 64.40,104.50 69.30,104.50 74.20,104.50 79.10,104.50 84.00,104.50 88.90,104.50 93.80,104.50 98.70,104.50 103.60,104.50 108.50,104.50 113.40,104.50 118.30,104.50 123.20,104.50 128.10,104.50 133.00,104.50 137.90,104.50 142.80,104.50 147.70,104.50 152.60,104.50 153.83,104.49 155.05,104.49 156.28,104.48 157.50,104.47 158.73,104.46 159.95,104.45 161.18,104.44 162.40,104.42 163.62,104.40 164.85,104.38 166.08,104.36 167.30,104.34 168.53,104.31 169.75,104.29 170.98,104.25 172.20,104.16 173.43,104.01 174.65,103.83 175.88,103.60 177.10,103.35 178.33,103.06 179.55,102.76 180.78,102.41 182.00,101.92 183.22,101.32 184.45,100.66 185.68,99.98 186.90,99.24 188.12,98.41 189.35,97.46 190.58,96.34 191.80,94.95 193.03,93.38 194.25,91.73 195.47,90.07 196.70,88.34 197.93,86.53 199.15,84.63 200.38,82.63 201.60,80.49 202.83,78.11 204.05,75.57 205.28,72.97 206.50,70.41 207.72,67.94 208.95,65.39 210.18,62.83 211.40,60.34 212.62,58.02 213.85,55.97 215.08,54.24 216.30,52.68 217.53,51.25 218.75,49.92 219.97,48.68 221.20,47.50 222.43,46.36 223.65,45.26 224.88,44.21 226.10,43.22 227.33,42.28 228.55,41.40 229.78,40.58 231.00,39.79 232.22,39.03 233.45,38.31 234.68,37.62 235.90,36.95 237.12,36.32 238.35,35.71 239.58,35.12 240.80,34.55 242.03,33.98 243.25,33.44 244.47,32.91 245.70,32.40" fill="none" stroke="#8c8c50" stroke-width="0.85"/>
<polyline points="54.60,104.50 59.50,104.50 64.40,104.50 69.30,104.50 74.20,104.50 79.10,104.50 84.00,104.50 88.90,104.50 93.80,104.50 98.70,104.50 103.60,104.50 108.50,104.50 113.40,104.50 118.30,104.50 123.20,104.50 128.10,104.50 133.00,104.50 137.90,104.50 142.80,104.50 147.70,104.50 152.60,104.50 153.83,104.50 155.05,104.50 156.28,104.49 157.50,104.49 158.73,104.48 159.95,104.47 161.18,104.46 162.40,104.45 163.62,104.44 164.85,104.42 166.08,104.40 167.30,104.39 168.53,104.36 169.75,104.34 170.98,104.32 172.20,104.29 173.43,104.25 174.65,104.16 175.88,104.02 177.10,103.83 178.33,103.61 179.55,103.35 180.78,103.07 182.00,102.77 183.22,102.43 184.45,101.94 185.68,101.34 186.90,100.69 188.12,100.01 189.35,99.27 190.58,98.45 191.80,97.50 193.03,96.39 194.25,95.01 195.47,93.46 196.70,91.82 197.93,90.16 199.15,88.45 200.38,86.65 201.60,84.76 202.83,82.77 204.05,80.65 205.28,78.29 206.50,75.76 207.72,73.18 208.95,70.64 210.18,68.19 211.40,65.65 212.62,63.10 213.85,60.63 215.08,58.33 216.30,56.29 217.53,54.57 218.75,53.02 219.97,51.60 221.20,50.29 222.43,49.06 223.65,47.88 224.88,46.74 226.10,45.65 227.33,44.62 228.55,43.63 229.78,42.70 231.00,41.82 232.22,41.00 233.45,40.22 234.68,39.47 235.90,38.75 237.12,38.06 238.35,37.40 239.58,36.77 240.80,36.17 242.03,35.58 243.25,35.01 244.47,34.46 245.70,33.91" fill="none" stroke="#5c9c5c" stroke-width="0.85"/>
<polyline points="54.60,104.50 59.50,104.50 64.40,104.50 69.30,104.50 74.20,104.50 79.10,104.50 84.00,104.50 88.90,104.50 93.80,104.50 98.70,104.50 103.60,104.50 108.50,104.50 113.40,104.50 118.30,104.50 123.20,104.50 128.10,104.50 133.00,104.50 137.90,104.50 142.80,104.50 147.70,104.50 152.60,104.50 153.83,104.50 155.05,104.50 156.28,104.50 157.50,104.50 158.73,104.49 159.95,104.48 161.18,104.48 162.40,104.47 163.62,104.45 164.85,104.44 166.08,104.43 167.30,104.41 168.53,104.39 169.75,104.37 170.98,104.35 172.20,104.32 173.43,104.29 174.65,104.26 175.88,104.18 177.10,104.05 178.33,103.87 179.55,103.66 180.78,103.41 182.00,103.13 183.22,102.84 184.45,102.51 185.68,102.05 186.90,101.47 188.12,100.83 189.35,100.16 190.58,99.44 191.80,98.63 193.03,97.71 194.25,96.65 195.47,95.32 196.70,93.80 197.93,92.16 199.15,90.52 200.38,88.82 201.60,87.04 202.83,85.18 204.05,83.21 205.28,81.13 206.50,78.82 207.72,76.32 208.95,73.74 210.18,71.19 211.40,68.74 212.62,66.22 213.85,63.67 215.08,61.18 216.30,58.84 217.53,56.75 218.75,54.98 219.97,53.40 221.20,51.96 222.43,50.63 223.65,49.38 224.88,48.20 226.10,47.05 227.33,45.96 228.55,44.91 229.78,43.92 231.00,42.97 232.22,42.09 233.45,41.26 234.68,40.47 235.90,39.72 237.12,38.99 238.35,38.30 239.58,37.64 240.80,37.00 242.03,36.39 243.25,35.80 244.47,35.23 245.70,34.67" fill="none" stroke="#d49c5c" stroke-width="0.85"/>
<polyline points="54.60,104.50 59.50,104.50 64.40,104.50 69.30,104.50 74.20,104.50 79.10,104.50 84.00,104.50 88.90,104.50 93.80,104.50 98.70,104.50 103.60,104.50 108.50,104.50 113.40,104.50 118.30,104.50 123.20,104.50 128.10,104.50 133.00,104.50 137.90,104.50 142.80,104.50 147.70,104.50 152.60,104.50 153.83,104.50 155.05,104.50 156.28,104.50 157.50,104.50 158.73,104.50 159.95,104.49 161.18,104.48 162.40,104.48 163.62,104.47 164.85,104.46 166.08,104.44 167.30,104.43 168.53,104.41 169.75,104.39 170.98,104.37 172.20,104.34 173.43,104.32 174.65,104.29 175.88,104.26 177.10,104.19 178.33,104.06 179.55,103.89 180.78,103.67 182.00,103.42 183.22,103.13 184.45,102.83 185.68,102.50 186.90,102.05 188.12,101.47 189.35,100.81 190.58,100.12 191.80,99.38 193.03,98.56 194.25,97.62 195.47,96.55 196.70,95.23 197.93,93.67 199.15,91.98 200.38,90.27 201.60,88.51 202.83,86.68 204.05,84.75 205.28,82.72 206.50,80.58 207.72,78.22 208.95,75.65 210.18,72.97 211.40,70.29 212.62,67.72 213.85,65.12 215.08,62.46 216.30,59.84 217.53,57.37 218.75,55.12 219.97,53.21 221.20,51.54 222.43,50.01 223.65,48.60 224.88,47.28 226.10,46.04 227.33,44.84 228.55,43.68 229.78,42.58 231.00,41.53 232.22,40.54 233.45,39.61 234.68,38.73 235.90,37.90 237.12,37.11 238.35,36.35 239.58,35.62 240.80,34.92 242.03,34.25 243.25,33.61 244.47,32.99 245.70,32.40" fill="none" stroke="#6c7c9c" stroke-width="0.85"/>
<polyline points="54.60,104.50 59.50,104.50 64.40,104.50 69.30,104.50 74.20,104.50 79.10,104.50 84.00,104.50 88.90,104.50 93.80,104.50 98.70,104.50 103.60,104.50 108.50,104.50 113.40,104.50 118.30,104.50 123.20,104.50 128.10,104.50 133.00,104.50 137.90,104.50 142.80,104.50 147.70,104.50 152.60,104.50 153.83,104.50 155.05,104.50 156.28,104.50 157.50,104.50 158.73,104.50 159.95,104.50 161.18,104.49 162.40,104.48 163.62,104.48 164.85,104.47 166.08,104.45 167.30,104.44 168.53,104.43 169.75,104.41 170.98,104.39 172.20,104.37 173.43,104.35 174.65,104.32 175.88,104.30 177.10,104.26 178.33,104.18 179.55,104.05 180.78,103.88 182.00,103.66 183.22,103.42 184.45,103.14 185.68,102.85 186.90,102.52 188.12,102.06 189.35,101.49 190.58,100.85 191.80,100.18 193.03,99.46 194.25,98.66 195.47,97.75 196.70,96.69 197.93,95.37 199.15,93.86 200.38,92.23 201.60,90.60 202.83,88.91 204.05,87.14 205.28,85.29 206.50,83.33 207.72,81.26 208.95,78.96 210.18,76.48 211.40,73.91 212.62,71.38 213.85,68.94 215.08,66.44 216.30,63.90 217.53,61.43 218.75,59.10 219.97,57.02 221.20,55.25 222.43,53.69 223.65,52.25 224.88,50.93 226.10,49.69 227.33,48.52 228.55,47.38 229.78,46.29 231.00,45.25 232.22,44.26 233.45,43.32 234.68,42.44 235.90,41.62 237.12,40.83 238.35,40.08 239.58,39.36 240.80,38.67 242.03,38.01 243.25,37.38 244.47,36.77 245.70,36.19" fill="none" stroke="#4c6c8c" stroke-width="0.85"/>
<polyline points="54.60,104.50 59.50,104.50 64.40,104.50 69.30,104.50 74.20,104.50 79.10,104.50 84.00,104.50 88.90,104.50 93.80,104.50 98.70,104.50 103.60,104.50 108.50,104.50 113.40,104.50 118.30,104.50 123.20,104.50 128.10,104.50 133.00,104.50 137.90,104.50 142.80,104.50 147.70,104.50 152.60,104.50 153.83,104.50 155.05,104.50 156.28,104.50 157.50,104.50 158.73,104.50 159.95,104.50 161.18,104.50 162.40,104.49 163.62,104.49 164.85,104.48 166.08,104.47 167.30,104.46 168.53,104.45 169.75,104.43 170.98,104.41 172.20,104.40 173.43,104.38 174.65,104.36 175.88,104.33 177.10,104.31 178.33,104.28 179.55,104.21 180.78,104.09 182.00,103.93 183.22,103.73 184.45,103.49 185.68,103.23 186.90,102.94 188.12,102.64 189.35,102.22 190.58,101.68 191.80,101.06 193.03,100.42 194.25,99.73 195.47,98.96 196.70,98.10 197.93,97.10 199.15,95.86 200.38,94.41 201.60,92.84 202.83,91.24 204.05,89.61 205.28,87.90 206.50,86.11 207.72,84.21 208.95,82.22 210.18,80.02 211.40,77.62 212.62,75.13 213.85,72.64 215.08,70.24 216.30,67.82 217.53,65.34 218.75,62.90 219.97,60.59 221.20,58.51 222.43,56.73 223.65,55.16 224.88,53.74 226.10,52.43 227.33,51.20 228.55,50.05 229.78,48.93 231.00,47.85 232.22,46.82 233.45,45.85 234.68,44.92 235.90,44.05 237.12,43.24 238.35,42.46 239.58,41.72 240.80,41.02 242.03,40.34 243.25,39.69 244.47,39.06 245.70,38.47" fill="none" stroke="#7c6cb4" stroke-width="0.85"/>
<polyline points="54.60,104.50 59.50,104.50 64.40,104.50 69.30,104.50 74.20,104.50 79.10,104.50 84.00,104.50 88.90,104.50 93.80,104.50 98.70,104.50 103.60,104.50 108.50,104.50 113.40,104.50 118.30,104.50 123.20,104.50 128.10,104.50 133.00,104.50 137.90,104.50 142.80,104.50 147.70,104.50 152.60,104.50 153.83,104.50 155.05,104.50 156.28,104.50 157.50,104.50 158.73,104.50 159.95,104.50 161.18,104.50 162.40,104.50 163.62,104.49 164.85,104.48 166.08,104.48 167.30,104.47 168.53,104.45 169.75,104.44 170.98,104.43 172.20,104.41 173.43,104.39 174.65,104.37 175.88,104.35 177.10,104.32 178.33,104.29 179.55,104.26 180.78,104.18 182.00,104.05 183.22,103.87 184.45,103.66 185.68,103.41 186.90,103.13 188.12,102.83 189.35,102.51 190.58,102.05 191.80,101.47 193.03,100.83 194.25,100.16 195.47,99.43 196.70,98.62 197.93,97.71 199.15,96.64 200.38,95.31 201.60,93.79 202.83,92.16 204.05,90.51 205.28,88.81 206.50,87.03 207.72,85.16 208.95,83.20 210.18,81.11 211.40,78.80 212.62,76.30 213.85,73.72 215.08,71.16 216.30,68.71 217.53,66.19 218.75,63.64 219.97,61.15 221.20,58.81 222.43,56.71 223.65,54.94 224.88,53.36 226.10,51.92 227.33,50.59 228.55,49.34 229.78,48.16 231.00,47.01 232.22,45.91 233.45,44.86 234.68,43.87 235.90,42.93 237.12,42.04 238.35,41.21 239.58,40.42 240.80,39.67 242.03,38.94 243.25,38.25 244.47,37.59 245.70,36.95" fill="none" stroke="#5c8cac" stroke-width="0.85"/>
<polyline points="54.60,104.50 59.50,104.50 64.40,104.50 69.30,104.50 74.20,104.50 79.10,104.50 84.00,104.50 88.90,104.50 93.80,104.50 98.70,104.50 103.60,104.50 108.50,104.50 113.40,104.50 118.30,104.50 123.20,104.50 128.10,104.50 133.00,104.50 137.90,104.50 142.80,104.50 147.70,104.50 152.60,104.50 153.83,104.50 155.05,104.50 156.28,104.50 157.50,104.50 158.73,104.50 159.95,104.50 161.18,104.50 162.40,104.50 163.62,104.49 164.85,104.49 166.08,104.48 167.30,104.48 168.53,104.47 169.75,104.45 170.98,104.44 172.20,104.43 173.43,104.41 174.65,104.39 175.88,104.37 177.10,104.35 178.33,104.32 179.55,104.30 180.78,104.26 182.00,104.17 183.22,104.04 184.45,103.86 185.68,103.64 186.90,103.40 188.12,103.13 189.35,102.84 190.58,102.51 191.80,102.04 193.03,101.47 194.25,100.84 195.47,100.19 196.70,99.48 197.93,98.68 199.15,97.77 200.38,96.70 201.60,95.38 202.83,93.88 204.05,92.30 205.28,90.71 206.50,89.06 207.72,87.34 208.95,85.52 210.18,83.61 211.40,81.56 212.62,79.30 213.85,76.87 215.08,74.38 216.30,71.94 217.53,69.58 218.75,67.15 219.97,64.70 221.20,62.32 222.43,60.11 223.65,58.15 224.88,56.49 226.10,55.00 227.33,53.64 228.55,52.37 229.78,51.19 231.00,50.06 232.22,48.96 233.45,47.92 234.68,46.92 235.90,45.97 237.12,45.08 238.35,44.23 239.58,43.45 240.80,42.69 242.03,41.97 243.25,41.28 244.47,40.62 245.70,39.99" fill="none" stroke="#9cb4cc" stroke-width="0.85"/>
<polyline points="54.60,104.50 59.50,104.50 64.40,104.50 69.30,104.50 74.20,104.50 79.10,104.50 84.00,104.50 88.90,104.50 93.80,104.50 98.70,104.50 103.60,104.50 108.50,104.50 113.40,104.50 118.30,104.50 123.20,104.50 128.10,104.50 133.00,104.50 137.90,104.50 142.80,104.50 147.70,104.50 152.60,104.50 153.83,104.50 155.05,104.50 156.28,104.50 157.50,104.50 158.73,104.50 159.95,104.50 161.18,104.50 162.40,104.50 163.62,104.50 164.85,104.49 166.08,104.49 167.30,104.48 168.53,104.47 169.75,104.46 170.98,104.45 172.20,104.44 173.43,104.42 174.65,104.40 175.88,104.38 177.10,104.36 178.33,104.34 179.55,104.31 180.78,104.29 182.00,104.24 183.22,104.14 184.45,103.99 185.68,103.80 186.90,103.58 188.12,103.32 189.35,103.04 190.58,102.74 191.80,102.38 193.03,101.88 194.25,101.28 195.47,100.63 196.70,99.96 197.93,99.22 199.15,98.39 200.38,97.44 201.60,96.30 202.83,94.90 204.05,93.35 205.28,91.74 206.50,90.11 207.72,88.41 208.95,86.64 210.18,84.77 211.40,82.79 212.62,80.67 213.85,78.31 215.08,75.82 216.30,73.28 217.53,70.81 218.75,68.40 219.97,65.91 221.20,63.42 222.43,61.02 223.65,58.81 224.88,56.87 226.10,55.23 227.33,53.74 228.55,52.37 229.78,51.10 231.00,49.90 232.22,48.76 233.45,47.65 234.68,46.59 235.90,45.58 237.12,44.63 238.35,43.73 239.58,42.88 240.80,42.08 242.03,41.32 243.25,40.59 244.47,39.89 245.70,39.23" fill="none" stroke="#5c5c94" stroke-width="0.85"/>
<polyline points="54.60,104.50 59.50,104.50 64.40,104.50 69.30,104.50 74.20,104.50 79.10,104.50 84.00,104.50 88.90,104.50 93.80,104.50 98.70,104.50 103.60,104.50 108.50,104.50 113.40,104.50 118.30,104.50 123.20,104.50 128.10,104.50 133.00,104.50 137.90,104.50 142.80,104.50 147.70,104.50 152.60,104.50 153.83,104.50 155.05,104.50 156.28,104.50 157.50,104.50 158.73,104.50 159.95,104.50 161.18,104.50 162.40,104.50 163.62,104.50 164.85,104.50 166.08,104.50 167.30,104.49 168.53,104.49 169.75,104.48 170.98,104.47 172.20,104.46 173.43,104.45 174.65,104.43 175.88,104.42 177.10,104.40 178.33,104.38 179.55,104.36 180.78,104.34 182.00,104.31 183.22,104.29 184.45,104.22 185.68,104.11 186.90,103.95 188.12,103.76 189.35,103.54 190.58,103.28 191.80,103.01 193.03,102.72 194.25,102.32 195.47,101.80 196.70,101.21 197.93,100.59 199.15,99.94 200.38,99.20 201.60,98.37 202.83,97.42 204.05,96.24 205.28,94.85 206.50,93.35 207.72,91.82 208.95,90.26 210.18,88.62 211.40,86.91 212.62,85.10 213.85,83.19 215.08,81.09 216.30,78.79 217.53,76.41 218.75,74.02 219.97,71.74 221.20,69.42 222.43,67.05 223.65,64.72 224.88,62.51 226.10,60.51 227.33,58.81 228.55,57.31 229.78,55.95 231.00,54.70 232.22,53.52 233.45,52.42 234.68,51.35 235.90,50.32 237.12,49.34 238.35,48.40 239.58,47.52 240.80,46.69 242.03,45.91 243.25,45.17 244.47,44.46 245.70,43.78" fill="none" stroke="#b49cc4" stroke-width="0.85"/>
<polyline points="54.60,104.50 59.50,104.50 64.40,104.50 69.30,104.50 74.20,104.50 79.10,104.50 84.00,104.50 88.90,104.50 93.80,104.50 98.70,104.50 103.60,104.50 108.50,104.50 113.40,104.50 118.30,104.50 123.20,104.50 128.10,104.50 133.00,104.50 137.90,104.50 142.80,104.50 147.70,104.50 152.60,104.50 153.83,104.50 155.05,104.50 156.28,104.50 157.50,104.50 158.73,104.50 159.95,104.50 161.18,104.50 162.40,104.50 163.62,104.50 164.85,104.50 166.08,104.50 167.30,104.50 168.53,104.49 169.75,104.49 170.98,104.48 172.20,104.47 173.43,104.46 174.65,104.45 175.88,104.44 177.10,104.42 178.33,104.40 179.55,104.39 180.78,104.37 182.00,104.34 183.22,104.32 184.45,104.29 185.68,104.24 186.90,104.14 188.12,103.99 189.35,103.80 190.58,103.58 191.80,103.33 193.03,103.07 194.25,102.78 195.47,102.41 196.70,101.91 197.93,101.33 199.15,100.71 200.38,100.07 201.60,99.35 202.83,98.54 204.05,97.62 205.28,96.49 206.50,95.13 207.72,93.64 208.95,92.11 210.18,90.56 211.40,88.94 212.62,87.24 213.85,85.45 215.08,83.56 216.30,81.50 217.53,79.24 218.75,76.86 219.97,74.47 221.20,72.15 222.43,69.85 223.65,67.49 224.88,65.14 226.10,62.89 227.33,60.85 228.55,59.08 229.78,57.55 231.00,56.17 232.22,54.89 233.45,53.70 234.68,52.58 235.90,51.51 237.12,50.47 238.35,49.47 239.58,48.53 240.80,47.64 242.03,46.79 243.25,46.00 244.47,45.25 245.70,44.54" fill="none" stroke="#8cc4d4" stroke-width="0.85"/>
<polyline points="54.60,104.50 59.50,104.50 64.40,104.50 69.30,104.50 74.20,104.50 79.10,104.50 84.00,104.50 88.90,104.50 93.80,104.50 98.70,104.50 103.60,104.50 108.50,104.50 113.40,104.50 118.30,104.50 123.20,104.50 128.10,104.50 133.00,104.50 137.90,104.50 142.80,104.50 147.70,104.50 152.60,104.50 153.83,104.50 155.05,104.50 156.28,104.50 157.50,104.50 158.73,104.50 159.95,104.50 161.18,104.50 162.40,104.50 163.62,104.50 164.85,104.50 166.08,104.50 167.30,104.50 168.53,104.50 169.75,104.50 170.98,104.49 172.20,104.49 173.43,104.48 174.65,104.47 175.88,104.46 177.10,104.45 178.33,104.43 179.55,104.42 180.78,104.40 182.00,104.38 183.22,104.36 184.45,104.34 185.68,104.31 186.90,104.28 188.12,104.21 189.35,104.08 190.58,103.92 191.80,103.72 193.03,103.49 194.25,103.24 195.47,102.96 196.70,102.66 197.93,102.24 199.15,101.70 200.38,101.11 201.60,100.49 202.83,99.82 204.05,99.07 205.28,98.23 206.50,97.24 207.72,96.02 208.95,94.61 210.18,93.10 211.40,91.58 212.62,90.01 213.85,88.37 215.08,86.64 216.30,84.83 217.53,82.90 218.75,80.76 219.97,78.46 221.20,76.07 222.43,73.71 223.65,71.45 224.88,69.13 226.10,66.77 227.33,64.47 228.55,62.31 229.78,60.37 231.00,58.73 232.22,57.27 233.45,55.94 234.68,54.71 235.90,53.56 237.12,52.47 238.35,51.41 239.58,50.40 240.80,49.43 242.03,48.51 243.25,47.64 244.47,46.82 245.70,46.06" fill="none" stroke="#d49cb4" stroke-width="0.85"/>
<polyline points="54.60,104.50 59.50,104.50 64.40,104.50 69.30,104.50 74.20,104.50 79.10,104.50 84.00,104.50 88.90,104.50 93.80,104.50 98.70,104.50 103.60,104.50 108.50,104.50 113.40,104.50 118.30,104.50 123.20,104.50 128.10,104.50 133.00,104.50 137.90,104.50 142.80,104.50 147.70,104.50 152.60,104.50 153.83,104.50 155.05,104.50 156.28,104.50 157.50,104.50 158.73,104.50 159.95,104.50 161.18,104.49 162.40,104.49 163.62,104.48 164.85,104.47 166.08,104.46 167.30,104.44 168.53,104.43 169.75,104.41 170.98,104.39 172.20,104.37 173.43,104.35 174.65,104.33 175.88,104.30 177.10,104.27 178.33,104.21 179.55,104.10 180.78,103.93 182.00,103.73 183.22,103.48 184.45,103.21 185.68,102.91 186.90,102.59 188.12,102.18 189.35,101.63 190.58,100.99 191.80,100.30 193.03,99.59 194.25,98.79 195.47,97.89 196.70,96.87 197.93,95.61 199.15,94.11 200.38,92.46 201.60,90.76 202.83,89.04 204.05,87.25 205.28,85.36 206.50,83.38 207.72,81.28 208.95,79.00 210.18,76.49 211.40,73.85 212.62,71.20 213.85,68.63 215.08,66.08 216.30,63.46 217.53,60.85 218.75,58.37 219.97,56.10 221.20,54.14 222.43,52.45 223.65,50.91 224.88,49.49 226.10,48.18 227.33,46.93 228.55,45.74 229.78,44.59 231.00,43.49 232.22,42.44 233.45,41.45 234.68,40.51 235.90,39.64 237.12,38.81 238.35,38.01 239.58,37.26 240.80,36.53 242.03,35.83 243.25,35.17 244.47,34.53 245.70,33.91" fill="none" stroke="#b4c06c" stroke-width="0.85"/>
<line x1="55.2" y1="97.8" x2="246" y2="97.8" stroke="#505050" stroke-width="1.5" stroke-dasharray="12.4 4.8"/>
<line x1="246.2" y1="23" x2="246.2" y2="105" stroke="#505050" stroke-width="1"/>
<line x1="54.6" y1="23" x2="54.6" y2="105.4" stroke="#111" stroke-width="1.3"/>
<line x1="54" y1="104.9" x2="246" y2="104.9" stroke="#111" stroke-width="1.1"/>
<line x1="49.2" y1="104.90" x2="54.6" y2="104.90" stroke="#111" stroke-width="1"/>
<line x1="51.9" y1="97.31" x2="54.6" y2="97.31" stroke="#111" stroke-width="1"/>
<line x1="51.9" y1="89.72" x2="54.6" y2="89.72" stroke="#111" stroke-width="1"/>
<line x1="51.9" y1="82.13" x2="54.6" y2="82.13" stroke="#111" stroke-width="1"/>
<line x1="51.9" y1="74.54" x2="54.6" y2="74.54" stroke="#111" stroke-width="1"/>
<line x1="49.2" y1="66.95" x2="54.6" y2="66.95" stroke="#111" stroke-width="1"/>
<line x1="51.9" y1="59.36" x2="54.6" y2="59.36" stroke="#111" stroke-width="1"/>
<line x1="51.9" y1="51.77" x2="54.6" y2="51.77" stroke="#111" stroke-width="1"/>
<line x1="51.9" y1="44.18" x2="54.6" y2="44.18" stroke="#111" stroke-width="1"/>
<line x1="51.9" y1="36.59" x2="54.6" y2="36.59" stroke="#111" stroke-width="1"/>
<line x1="49.2" y1="29.00" x2="54.6" y2="29.00" stroke="#111" stroke-width="1"/>
<text x="44.85" y="31.8" text-anchor="middle" font-family='"Liberation Sans", sans-serif' font-size="7.8" font-weight="normal" fill="#2a2a2a" stroke="#2a2a2a" stroke-width="0.3">1</text>
<text x="34.25 39.55 44.85" y="69.7" text-anchor="middle" font-family='"Liberation Sans", sans-serif' font-size="7.8" font-weight="normal" fill="#2a2a2a" stroke="#2a2a2a" stroke-width="0.3">0.5</text>
<text x="44.85" y="107.7" text-anchor="middle" font-family='"Liberation Sans", sans-serif' font-size="7.8" font-weight="normal" fill="#2a2a2a" stroke="#2a2a2a" stroke-width="0.3">0</text>
<line x1="59.50" y1="104.9" x2="59.50" y2="108.5" stroke="#111" stroke-width="1"/>
<line x1="69.30" y1="104.9" x2="69.30" y2="108.5" stroke="#111" stroke-width="1"/>
<line x1="79.10" y1="104.9" x2="79.10" y2="108.5" stroke="#111" stroke-width="1"/>
<line x1="88.90" y1="104.9" x2="88.90" y2="108.5" stroke="#111" stroke-width="1"/>
<line x1="98.70" y1="104.9" x2="98.70" y2="110.8" stroke="#111" stroke-width="1"/>
<line x1="108.50" y1="104.9" x2="108.50" y2="108.5" stroke="#111" stroke-width="1"/>
<line x1="118.30" y1="104.9" x2="118.30" y2="108.5" stroke="#111" stroke-width="1"/>
<line x1="128.10" y1="104.9" x2="128.10" y2="108.5" stroke="#111" stroke-width="1"/>
<line x1="137.90" y1="104.9" x2="137.90" y2="108.5" stroke="#111" stroke-width="1"/>
<line x1="147.70" y1="104.9" x2="147.70" y2="110.8" stroke="#111" stroke-width="1"/>
<line x1="157.50" y1="104.9" x2="157.50" y2="108.5" stroke="#111" stroke-width="1"/>
<line x1="167.30" y1="104.9" x2="167.30" y2="108.5" stroke="#111" stroke-width="1"/>
<line x1="177.10" y1="104.9" x2="177.10" y2="108.5" stroke="#111" stroke-width="1"/>
<line x1="186.90" y1="104.9" x2="186.90" y2="108.5" stroke="#111" stroke-width="1"/>
<line x1="196.70" y1="104.9" x2="196.70" y2="110.8" stroke="#111" stroke-width="1"/>
<line x1="206.50" y1="104.9" x2="206.50" y2="108.5" stroke="#111" stroke-width="1"/>
<line x1="216.30" y1="104.9" x2="216.30" y2="108.5" stroke="#111" stroke-width="1"/>
<line x1="226.10" y1="104.9" x2="226.10" y2="108.5" stroke="#111" stroke-width="1"/>
<line x1="235.90" y1="104.9" x2="235.90" y2="108.5" stroke="#111" stroke-width="1"/>
<line x1="245.70" y1="104.9" x2="245.70" y2="110.8" stroke="#111" stroke-width="1"/>
<text x="95.60 101.00" y="120.7" text-anchor="middle" font-family='"Liberation Sans", sans-serif' font-size="8.1" font-weight="normal" fill="#2a2a2a" stroke="#2a2a2a" stroke-width="0.3">10</text>
<text x="144.60 150.00" y="120.7" text-anchor="middle" font-family='"Liberation Sans", sans-serif' font-size="8.1" font-weight="normal" fill="#2a2a2a" stroke="#2a2a2a" stroke-width="0.3">20</text>
<text x="193.60 199.00" y="120.7" text-anchor="middle" font-family='"Liberation Sans", sans-serif' font-size="8.1" font-weight="normal" fill="#2a2a2a" stroke="#2a2a2a" stroke-width="0.3">30</text>
<text x="242.60" y="120.7" text-anchor="middle" font-family='"Liberation Sans", sans-serif' font-size="8.1" font-weight="normal" fill="#2a2a2a" stroke="#2a2a2a" stroke-width="0.3">4</text>
<text x="17" y="158" textLength="180" lengthAdjust="spacingAndGlyphs" font-family='"Liberation Sans", sans-serif' font-size="9">C(T) Control Graph y = -3.293x + 31.63; r^2 = 0.994</text>
<rect x="15" y="162.7" width="232" height="116" fill="none" stroke="#505050" stroke-width="1.3"/>
<rect x="17.8" y="181.4" width="11.6" height="50.1" fill="#fff" stroke="#222" stroke-width="1"/>
<text transform="translate(27,229.8) rotate(-90)" textLength="45.6" lengthAdjust="spacingAndGlyphs" font-family='"Liberation Sans", sans-serif' font-weight="bold" font-size="10.5">C(T) Cycle</text>
<rect x="127.3" y="265.6" width="53.3" height="10.8" fill="#fff" stroke="#222" stroke-width="1"/>
<text x="128.3" y="274.1" textLength="50.2" lengthAdjust="spacingAndGlyphs" font-family='"Liberation Sans", sans-serif' font-weight="bold" font-size="8.1">Log Quantity</text>
<line x1="60" y1="166.5" x2="60" y2="249.4" stroke="#111" stroke-width="1.2"/>
<line x1="59.5" y1="248.6" x2="247" y2="248.6" stroke="#111" stroke-width="1.2"/>
<line x1="57.0" y1="166.50" x2="60" y2="166.50" stroke="#111" stroke-width="1"/>
<line x1="57.0" y1="174.74" x2="60" y2="174.74" stroke="#111" stroke-width="1"/>
<line x1="57.0" y1="182.98" x2="60" y2="182.98" stroke="#111" stroke-width="1"/>
<line x1="54.6" y1="191.22" x2="60" y2="191.22" stroke="#111" stroke-width="1"/>
<line x1="57.0" y1="199.46" x2="60" y2="199.46" stroke="#111" stroke-width="1"/>
<line x1="57.0" y1="207.70" x2="60" y2="207.70" stroke="#111" stroke-width="1"/>
<line x1="57.0" y1="215.94" x2="60" y2="215.94" stroke="#111" stroke-width="1"/>
<line x1="57.0" y1="224.18" x2="60" y2="224.18" stroke="#111" stroke-width="1"/>
<line x1="54.6" y1="232.42" x2="60" y2="232.42" stroke="#111" stroke-width="1"/>
<line x1="57.0" y1="240.66" x2="60" y2="240.66" stroke="#111" stroke-width="1"/>
<text x="45.45 50.75" y="194.4" text-anchor="middle" font-family='"Liberation Sans", sans-serif' font-size="7.8" font-weight="normal" fill="#2a2a2a" stroke="#2a2a2a" stroke-width="0.3">30</text>
<text x="34.85 40.15 45.45 50.75" y="235.2" text-anchor="middle" font-family='"Liberation Sans", sans-serif' font-size="7.8" font-weight="normal" fill="#2a2a2a" stroke="#2a2a2a" stroke-width="0.3">27.5</text>
<line x1="64.70" y1="248.6" x2="64.70" y2="252" stroke="#111" stroke-width="1"/>
<line x1="77.54" y1="248.6" x2="77.54" y2="252" stroke="#111" stroke-width="1"/>
<line x1="90.38" y1="248.6" x2="90.38" y2="252" stroke="#111" stroke-width="1"/>
<line x1="103.22" y1="248.6" x2="103.22" y2="252" stroke="#111" stroke-width="1"/>
<line x1="116.06" y1="248.6" x2="116.06" y2="253.5" stroke="#111" stroke-width="1"/>
<line x1="128.90" y1="248.6" x2="128.90" y2="252" stroke="#111" stroke-width="1"/>
<line x1="141.74" y1="248.6" x2="141.74" y2="252" stroke="#111" stroke-width="1"/>
<line x1="154.58" y1="248.6" x2="154.58" y2="252" stroke="#111" stroke-width="1"/>
<line x1="167.42" y1="248.6" x2="167.42" y2="252" stroke="#111" stroke-width="1"/>
<line x1="180.26" y1="248.6" x2="180.26" y2="253.5" stroke="#111" stroke-width="1"/>
<line x1="193.10" y1="248.6" x2="193.10" y2="252" stroke="#111" stroke-width="1"/>
<line x1="205.94" y1="248.6" x2="205.94" y2="252" stroke="#111" stroke-width="1"/>
<line x1="218.78" y1="248.6" x2="218.78" y2="252" stroke="#111" stroke-width="1"/>
<line x1="231.62" y1="248.6" x2="231.62" y2="252" stroke="#111" stroke-width="1"/>
<line x1="244.46" y1="248.6" x2="244.46" y2="253.5" stroke="#111" stroke-width="1"/>
<text x="110.70 116.00 121.30" y="264" text-anchor="middle" font-family='"Liberation Sans", sans-serif' font-size="7.8" font-weight="normal" fill="#2a2a2a" stroke="#2a2a2a" stroke-width="0.3">0.5</text>
<text x="180.50" y="264" text-anchor="middle" font-family='"Liberation Sans", sans-serif' font-size="7.8" font-weight="normal" fill="#2a2a2a" stroke="#2a2a2a" stroke-width="0.3">1</text>
<text x="242.35 247.65" y="264" text-anchor="middle" font-family='"Liberation Sans", sans-serif' font-size="7.8" font-weight="normal" fill="#2a2a2a" stroke="#2a2a2a" stroke-width="0.3">1.</text>
<line x1="60" y1="167.2" x2="247" y2="246.8" stroke="#222" stroke-width="1"/>
<circle cx="124" cy="194.44" r="3.4" fill="#bcbcbc"/>
<circle cx="127" cy="195.72" r="3.4" fill="#bcbcbc"/>
<circle cx="130" cy="197.0" r="3.4" fill="#bcbcbc"/>
<circle cx="133" cy="198.28" r="3.4" fill="#bcbcbc"/>
<circle cx="136" cy="199.55" r="3.4" fill="#bcbcbc"/>
<circle cx="139" cy="200.83" r="3.4" fill="#bcbcbc"/>
<circle cx="142" cy="202.11" r="3.4" fill="#bcbcbc"/>
<circle cx="144.5" cy="203.17" r="3.4" fill="#bcbcbc"/>
<circle cx="153.5" cy="206.2" r="3.6" fill="#111"/>
<circle cx="155.5" cy="208.15" r="3.5" fill="#bcbcbc"/>
<circle cx="158.5" cy="209.43" r="3.5" fill="#bcbcbc"/>
<circle cx="193.2" cy="226.6" r="3.7" fill="#111"/>
<circle cx="175" cy="216.16" r="3.4" fill="#bcbcbc"/>
<circle cx="178" cy="217.43" r="3.4" fill="#bcbcbc"/>
<circle cx="181" cy="218.71" r="3.4" fill="#bcbcbc"/>
<circle cx="184" cy="219.99" r="3.4" fill="#bcbcbc"/>
<circle cx="187" cy="221.26" r="3.4" fill="#bcbcbc"/>
<circle cx="190" cy="222.54" r="3.4" fill="#bcbcbc"/>
<circle cx="193" cy="223.82" r="3.4" fill="#bcbcbc"/>
<circle cx="196" cy="225.1" r="3.4" fill="#bcbcbc"/>
<circle cx="198" cy="225.95" r="3.4" fill="#bcbcbc"/>
<circle cx="76.2" cy="171.6" r="3.8" fill="#0a0a0a"/>
<circle cx="76.2" cy="178.0" r="3.8" fill="#0a0a0a"/>
<circle cx="114.8" cy="188.8" r="3.9" fill="#0a0a0a"/>
<circle cx="114.8" cy="191.3" r="3.9" fill="#0a0a0a"/>
<circle cx="231.5" cy="238.6" r="3.8" fill="#0a0a0a"/>
<circle cx="231.5" cy="240.8" r="3.8" fill="#0a0a0a"/>
<line x1="60" y1="167.2" x2="247" y2="246.8" stroke="#222" stroke-width="0.9"/>
<text x="127.3" y="302.2" text-anchor="middle" font-family='"Liberation Sans", sans-serif' font-weight="bold" font-size="12.6">CCL3L1 standard plot</text>
<text x="289.2" y="34.4" text-anchor="middle" font-family='"Liberation Serif", serif' font-weight="bold" font-size="9.8">Copy</text>
<text x="289.2" y="46.2" text-anchor="middle" font-family='"Liberation Serif", serif' font-weight="bold" font-size="9.8">number</text>
<text x="289.2" y="58" text-anchor="middle" font-family='"Liberation Serif", serif' font-weight="bold" font-size="9.8">(pdg)</text>
<text x="354.7" y="34.4" text-anchor="middle" font-family='"Liberation Serif", serif' font-weight="bold" font-size="9.8">LTNPs</text>
<text x="355.2" y="46.2" text-anchor="middle" font-family='"Liberation Serif", serif' font-weight="bold" font-size="9.8">HIV</text>
<text x="424.7" y="34.4" text-anchor="middle" font-family='"Liberation Serif", serif' font-weight="bold" font-size="9.8">LTNPs</text>
<text x="424.4" y="46.2" text-anchor="middle" font-family='"Liberation Serif", serif' font-weight="bold" font-size="9.8">HIV/HTLV-2</text>
<text x="491.2" y="34.4" text-anchor="middle" font-family='"Liberation Serif", serif' font-weight="bold" font-size="9.8">HTLV-2/</text>
<text x="475" y="46.2" font-family='"Liberation Serif", serif' font-weight="bold" font-size="9.8">HIV<tspan font-size="6" dy="-3.6">MEU</tspan></text>
<text x="283.2" y="88.7" text-anchor="middle" font-family='"Liberation Serif", serif' font-weight="bold" font-size="9.8">5</text>
<text x="283.2" y="126.4" text-anchor="middle" font-family='"Liberation Serif", serif' font-weight="bold" font-size="9.8">4</text>
<text x="283.2" y="163.7" text-anchor="middle" font-family='"Liberation Serif", serif' font-weight="bold" font-size="9.8">3</text>
<text x="283.2" y="201.9" text-anchor="middle" font-family='"Liberation Serif", serif' font-weight="bold" font-size="9.8">2</text>
<text x="283.2" y="239.5" text-anchor="middle" font-family='"Liberation Serif", serif' font-weight="bold" font-size="9.8">1</text>
<text x="283.2" y="277.0" text-anchor="middle" font-family='"Liberation Serif", serif' font-weight="bold" font-size="9.8">0</text>
<polyline points="351.3,74 346.8,74 346.8,102.5" fill="none" stroke="#444" stroke-width="1"/>
<polyline points="408,74 412.5,74 412.5,102.5" fill="none" stroke="#444" stroke-width="1"/>
<polyline points="426.3,74 421.7,74 421.7,102" fill="none" stroke="#444" stroke-width="1"/>
<polyline points="479.3,74 484,74 484,102" fill="none" stroke="#444" stroke-width="1"/>
<polyline points="346.4,248.2 346.4,272 389,272" fill="none" stroke="#444" stroke-width="1"/>
<polyline points="445.5,272 483.8,272 483.8,257.5" fill="none" stroke="#444" stroke-width="1"/>
<text x="362" y="76.3" font-family='"Liberation Serif", serif' font-weight="bold" font-size="9.8"><tspan font-style="italic">P</tspan> = .651</text>
<text x="435" y="76.5" font-family='"Liberation Serif", serif' font-weight="bold" font-size="9.8"><tspan font-style="italic">P</tspan> = .015</text>
<text x="399.5" y="276.3" font-family='"Liberation Serif", serif' font-weight="bold" font-size="9.8"><tspan font-style="italic">P</tspan> = .002</text>
<circle cx="341.6" cy="123.2" r="1.8" fill="#b8163a"/>
<circle cx="346.3" cy="123.2" r="1.8" fill="#b8163a"/>
<circle cx="351.0" cy="123.2" r="1.8" fill="#b8163a"/>
<circle cx="355.6" cy="123.2" r="1.8" fill="#b8163a"/>
<circle cx="341.6" cy="198.7" r="1.8" fill="#b8163a"/>
<circle cx="346.3" cy="198.7" r="1.8" fill="#b8163a"/>
<circle cx="351.0" cy="198.7" r="1.8" fill="#b8163a"/>
<circle cx="355.6" cy="198.7" r="1.8" fill="#b8163a"/>
<line x1="332.3" y1="158.7" x2="365.4" y2="158.7" stroke="#c8102e" stroke-width="2"/>
<circle cx="413.9" cy="123.2" r="1.7" fill="#7ab648"/>
<circle cx="418.6" cy="123.2" r="1.7" fill="#7ab648"/>
<circle cx="423.3" cy="123.2" r="1.7" fill="#7ab648"/>
<line x1="403.3" y1="201.3" x2="436.3" y2="201.3" stroke="#7ab648" stroke-width="1.6"/>
<circle cx="414.2" cy="198.4" r="1.6" fill="#7ab648"/>
<circle cx="418.9" cy="198.4" r="1.6" fill="#7ab648"/>
<circle cx="423.6" cy="198.4" r="1.6" fill="#7ab648"/>
<circle cx="418.3" cy="236.8" r="1.5" fill="#7ab648"/>
<circle cx="483.1" cy="198.6" r="1.8" fill="#2c3f8c"/>
<circle cx="487.8" cy="198.6" r="1.8" fill="#2c3f8c"/>
<line x1="469.4" y1="238.8" x2="502.3" y2="238.8" stroke="#3050a8" stroke-width="1.6"/>
<circle cx="473.6" cy="236.4" r="1.7" fill="#2c3f8c"/>
<circle cx="478.3" cy="236.4" r="1.7" fill="#2c3f8c"/>
<circle cx="483.0" cy="236.4" r="1.7" fill="#2c3f8c"/>
<circle cx="487.6" cy="236.4" r="1.7" fill="#2c3f8c"/>
<circle cx="492.1" cy="236.4" r="1.7" fill="#2c3f8c"/>
<circle cx="496.5" cy="236.4" r="1.7" fill="#2c3f8c"/>
<polyline points="43.1,507 43.1,352.3 68,334.5 251.8,334.5 251.8,488 226.2,507 43.1,507" fill="none" stroke="#b8b8b8" stroke-width="1.1"/>
<polyline points="68,334.5 68,488 43.1,507" fill="none" stroke="#b8b8b8" stroke-width="1.1"/>
<line x1="68" y1="488" x2="251.8" y2="488" stroke="#b8b8b8" stroke-width="1.1"/>
<rect x="78.7" y="339.5" width="151" height="13" fill="#fff" stroke="#dcdcdc" stroke-width="0.8"/>
<rect x="81.3" y="344.3" width="4" height="4" fill="#8c8c8c" stroke="#333" stroke-width="0.6"/>
<rect x="119.8" y="344.3" width="4" height="4" fill="#fff" stroke="#333" stroke-width="0.6"/>
<rect x="149.6" y="344.3" width="4.5" height="4" fill="#1e1e60" stroke="#111" stroke-width="0.6"/>
<text x="87.7" y="348.8" textLength="28.4" lengthAdjust="spacingAndGlyphs" font-family='"Liberation Sans", sans-serif' font-size="8.7" stroke="#000" stroke-width="0.15">CCL3L1</text>
<text x="126.3" y="348.8" textLength="19.4" lengthAdjust="spacingAndGlyphs" font-family='"Liberation Sans", sans-serif' font-size="8.7" stroke="#000" stroke-width="0.15">CCL3</text>
<text x="155.9" y="348.8" textLength="70.8" lengthAdjust="spacingAndGlyphs" font-family='"Liberation Sans", sans-serif' font-size="8.7" stroke="#000" stroke-width="0.15">CCL3L1/CCL3 Ratio</text>
<text x="39.3" y="356.0" text-anchor="end" font-family='"Liberation Sans", sans-serif' font-weight="bold" font-size="8.2">300</text>
<text x="39.3" y="408.0" text-anchor="end" font-family='"Liberation Sans", sans-serif' font-weight="bold" font-size="8.2">200</text>
<text x="39.3" y="459.2" text-anchor="end" font-family='"Liberation Sans", sans-serif' font-weight="bold" font-size="8.2">100</text>
<text x="39.3" y="510.7" text-anchor="end" font-family='"Liberation Sans", sans-serif' font-weight="bold" font-size="8.2">0</text>
<text transform="translate(12.2,485.4) rotate(-90)" textLength="120.6" lengthAdjust="spacingAndGlyphs" font-family='"Liberation Serif", serif' font-weight="bold" font-size="13.1">Gene expression level</text>
<text x="140" y="535.6" text-anchor="middle" font-family='"Liberation Serif", serif' font-weight="bold" font-size="13.3">PHA-activated PBMCs</text>
<polygon points="157.6,501.4 167.2,493.59999999999997 196.2,493.59999999999997 186.6,501.4" fill="#1e1e66" stroke="#111" stroke-width="0.6"/>
<polygon points="128,501.3 128,477.6 137.6,469.8 137.6,493.5" fill="#5a5a5a" stroke="#222" stroke-width="0.8" stroke-linejoin="round"/>
<polygon points="99.2,477.6 108.8,469.8 137.6,469.8 128,477.6" fill="#6e6e6e" stroke="#222" stroke-width="0.8" stroke-linejoin="round"/>
<rect x="99.2" y="477.6" width="28.799999999999997" height="23.69999999999999" fill="#959595" stroke="#222" stroke-width="0.8"/>
<polygon points="157.6,501.3 157.6,379.8 167.2,372.0 167.2,493.5" fill="#9c9c9c" stroke="#222" stroke-width="0.8" stroke-linejoin="round"/>
<polygon points="128,379.8 137.6,372.0 167.2,372.0 157.6,379.8" fill="#d4d4d4" stroke="#222" stroke-width="0.8" stroke-linejoin="round"/>
<rect x="128" y="379.8" width="29.599999999999994" height="121.5" fill="#ffffff" stroke="#222" stroke-width="0.8"/>
<polyline points="296.9,507.4 296.9,343.8 310.7,335 517.7,335 517.7,499 503.9,507.4 296.9,507.4" fill="none" stroke="#b8b8b8" stroke-width="1.1"/>
<polyline points="310.7,335 310.7,499 296.9,507.4" fill="none" stroke="#b8b8b8" stroke-width="1.1"/>
<line x1="310.7" y1="499" x2="517.7" y2="499" stroke="#b8b8b8" stroke-width="1.1"/>
<text x="292.2" y="346.90000000000003" text-anchor="end" font-family='"Liberation Sans", sans-serif' font-weight="bold" font-size="8.9">3</text>
<text x="292.2" y="401.90000000000003" text-anchor="end" font-family='"Liberation Sans", sans-serif' font-weight="bold" font-size="8.9">2</text>
<text x="292.2" y="456.0" text-anchor="end" font-family='"Liberation Sans", sans-serif' font-weight="bold" font-size="8.9">1</text>
<text x="292.2" y="510.5" text-anchor="end" font-family='"Liberation Sans", sans-serif' font-weight="bold" font-size="8.9">0</text>
<rect x="343.9" y="341.4" width="154.9" height="14.6" fill="#fff" stroke="#dcdcdc" stroke-width="0.8"/>
<rect x="346.7" y="346.9" width="4.2" height="4.2" fill="#8c8c8c" stroke="#333" stroke-width="0.7"/>
<rect x="385.6" y="346.9" width="4.2" height="4.2" fill="#fff" stroke="#333" stroke-width="0.7"/>
<rect x="416.5" y="346.9" width="4.2" height="4.2" fill="#1e1e60" stroke="#111" stroke-width="0.7"/>
<text x="352.6" y="351.5" textLength="29" lengthAdjust="spacingAndGlyphs" font-family='"Liberation Sans", sans-serif' font-size="8.9" stroke="#000" stroke-width="0.15">CCL3L1</text>
<text x="392" y="351.5" textLength="21.2" lengthAdjust="spacingAndGlyphs" font-family='"Liberation Sans", sans-serif' font-size="8.9" stroke="#000" stroke-width="0.15">CCL3</text>
<text x="423.2" y="351.5" textLength="72.6" lengthAdjust="spacingAndGlyphs" font-family='"Liberation Sans", sans-serif' font-size="8.9" stroke="#000" stroke-width="0.15">CCL3L1/CCL3 Ratio</text>
<polygon points="327.9,504.0 327.9,352.24 332.2,348.44 332.2,500.2" fill="#4e4e4e" stroke="#1a1a1a" stroke-width="0.7" stroke-linejoin="round"/>
<polygon points="312.6,352.24 316.90000000000003,348.44 332.2,348.44 327.9,352.24" fill="#6a6a6a" stroke="#1a1a1a" stroke-width="0.7" stroke-linejoin="round"/>
<rect x="312.6" y="352.24" width="15.299999999999955" height="151.76" fill="#949494" stroke="#1a1a1a" stroke-width="0.7"/>
<polygon points="343.2,504.0 343.2,411.86 347.5,408.06 347.5,500.2" fill="#a8a8a8" stroke="#1a1a1a" stroke-width="0.7" stroke-linejoin="round"/>
<polygon points="327.9,411.86 332.2,408.06 347.5,408.06 343.2,411.86" fill="#dadada" stroke="#1a1a1a" stroke-width="0.7" stroke-linejoin="round"/>
<rect x="327.9" y="411.86" width="15.300000000000011" height="92.13999999999999" fill="#ffffff" stroke="#1a1a1a" stroke-width="0.7"/>
<polygon points="358.5,504.0 358.5,411.86 362.8,408.06 362.8,500.2" fill="#18184a" stroke="#1a1a1a" stroke-width="0.7" stroke-linejoin="round"/>
<polygon points="343.2,411.86 347.5,408.06 362.8,408.06 358.5,411.86" fill="#1c1c5a" stroke="#1a1a1a" stroke-width="0.7" stroke-linejoin="round"/>
<rect x="343.2" y="411.86" width="15.300000000000011" height="92.13999999999999" fill="#2e2e82" stroke="#1a1a1a" stroke-width="0.7"/>
<polygon points="396.7,504.0 396.7,406.44 401.0,402.64 401.0,500.2" fill="#4e4e4e" stroke="#1a1a1a" stroke-width="0.7" stroke-linejoin="round"/>
<polygon points="381.4,406.44 385.7,402.64 401.0,402.64 396.7,406.44" fill="#6a6a6a" stroke="#1a1a1a" stroke-width="0.7" stroke-linejoin="round"/>
<rect x="381.4" y="406.44" width="15.300000000000011" height="97.56" fill="#949494" stroke="#1a1a1a" stroke-width="0.7"/>
<polygon points="412.0,504.0 412.0,406.44 416.3,402.64 416.3,500.2" fill="#a8a8a8" stroke="#1a1a1a" stroke-width="0.7" stroke-linejoin="round"/>
<polygon points="396.7,406.44 401.0,402.64 416.3,402.64 412.0,406.44" fill="#dadada" stroke="#1a1a1a" stroke-width="0.7" stroke-linejoin="round"/>
<rect x="396.7" y="406.44" width="15.300000000000011" height="97.56" fill="#ffffff" stroke="#1a1a1a" stroke-width="0.7"/>
<polygon points="427.3,504.0 427.3,449.8 431.6,446.0 431.6,500.2" fill="#18184a" stroke="#1a1a1a" stroke-width="0.7" stroke-linejoin="round"/>
<polygon points="412.0,449.8 416.3,446.0 431.6,446.0 427.3,449.8" fill="#1c1c5a" stroke="#1a1a1a" stroke-width="0.7" stroke-linejoin="round"/>
<rect x="412.0" y="449.8" width="15.300000000000011" height="54.19999999999999" fill="#2e2e82" stroke="#1a1a1a" stroke-width="0.7"/>
<polygon points="465.8,504.0 465.8,395.6 470.1,391.8 470.1,500.2" fill="#4e4e4e" stroke="#1a1a1a" stroke-width="0.7" stroke-linejoin="round"/>
<polygon points="450.5,395.6 454.8,391.8 470.1,391.8 465.8,395.6" fill="#6a6a6a" stroke="#1a1a1a" stroke-width="0.7" stroke-linejoin="round"/>
<rect x="450.5" y="395.6" width="15.300000000000011" height="108.39999999999998" fill="#949494" stroke="#1a1a1a" stroke-width="0.7"/>
<polygon points="481.1,504.0 481.1,455.22 485.40000000000003,451.42 485.40000000000003,500.2" fill="#a8a8a8" stroke="#1a1a1a" stroke-width="0.7" stroke-linejoin="round"/>
<polygon points="465.8,455.22 470.1,451.42 485.40000000000003,451.42 481.1,455.22" fill="#dadada" stroke="#1a1a1a" stroke-width="0.7" stroke-linejoin="round"/>
<rect x="465.8" y="455.22" width="15.300000000000011" height="48.77999999999997" fill="#ffffff" stroke="#1a1a1a" stroke-width="0.7"/>
<polygon points="496.4,504.0 496.4,384.76 500.7,380.96 500.7,500.2" fill="#18184a" stroke="#1a1a1a" stroke-width="0.7" stroke-linejoin="round"/>
<polygon points="481.1,384.76 485.40000000000003,380.96 500.7,380.96 496.4,384.76" fill="#1c1c5a" stroke="#1a1a1a" stroke-width="0.7" stroke-linejoin="round"/>
<rect x="481.1" y="384.76" width="15.299999999999955" height="119.24000000000001" fill="#2e2e82" stroke="#1a1a1a" stroke-width="0.7"/>
<text transform="translate(339.1,603) rotate(-90)" font-family='"Liberation Serif", serif' font-weight="bold" font-size="9.9"><tspan textLength="64" lengthAdjust="spacingAndGlyphs">HTLV-2/HIV-1</tspan><tspan font-size="6.6" dx="1.8" dy="-3.7" textLength="14.4" lengthAdjust="spacingAndGlyphs">MEU</tspan></text>
<text transform="translate(406.8,520.3) rotate(-90)" text-anchor="end" textLength="97.2" lengthAdjust="spacingAndGlyphs" font-family='"Liberation Serif", serif' font-weight="bold" font-size="9.9">LTNPs HTLV-2/HIV-1</text>
<text transform="translate(476.4,519.8) rotate(-90)" text-anchor="end" textLength="58.4" lengthAdjust="spacingAndGlyphs" font-family='"Liberation Serif", serif' font-weight="bold" font-size="9.9">LTNPs HIV-1</text>
</svg>
</body></html>
